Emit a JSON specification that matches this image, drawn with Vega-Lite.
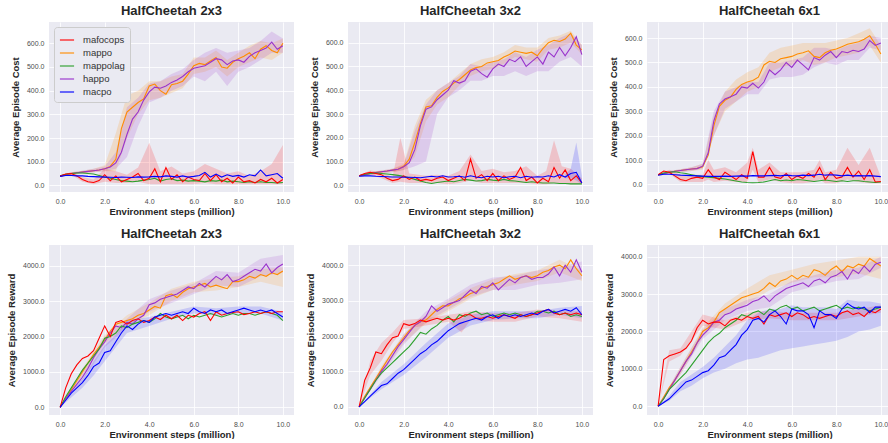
{
"$schema":"https://vega.github.io/schema/vega-lite/v6.json",
"padding":{"left":6,"top":5,"right":0,"bottom":0},
"datasets":{
"d":[
{"p":1,"s":"mappo","x":0,"y":38},{"p":1,"s":"mappo","x":0.25,"y":45},{"p":1,"s":"mappo","x":0.5,"y":50},{"p":1,"s":"mappo","x":0.75,"y":53},{"p":1,"s":"mappo","x":1,"y":56},{"p":1,"s":"mappo","x":1.25,"y":59},{"p":1,"s":"mappo","x":1.5,"y":62},{"p":1,"s":"mappo","x":1.75,"y":65},{"p":1,"s":"mappo","x":2,"y":70},{"p":1,"s":"mappo","x":2.25,"y":80},{"p":1,"s":"mappo","x":2.5,"y":110},{"p":1,"s":"mappo","x":2.75,"y":240},{"p":1,"s":"mappo","x":3,"y":310},{"p":1,"s":"mappo","x":3.25,"y":330},{"p":1,"s":"mappo","x":3.5,"y":350},{"p":1,"s":"mappo","x":3.75,"y":365},{"p":1,"s":"mappo","x":4,"y":420},{"p":1,"s":"mappo","x":4.25,"y":428},{"p":1,"s":"mappo","x":4.5,"y":400},{"p":1,"s":"mappo","x":4.75,"y":385},{"p":1,"s":"mappo","x":5,"y":425},{"p":1,"s":"mappo","x":5.25,"y":430},{"p":1,"s":"mappo","x":5.5,"y":440},{"p":1,"s":"mappo","x":5.75,"y":470},{"p":1,"s":"mappo","x":6,"y":505},{"p":1,"s":"mappo","x":6.25,"y":515},{"p":1,"s":"mappo","x":6.5,"y":510},{"p":1,"s":"mappo","x":6.75,"y":525},{"p":1,"s":"mappo","x":7,"y":540},{"p":1,"s":"mappo","x":7.25,"y":500},{"p":1,"s":"mappo","x":7.5,"y":495},{"p":1,"s":"mappo","x":7.75,"y":520},{"p":1,"s":"mappo","x":8,"y":535},{"p":1,"s":"mappo","x":8.25,"y":545},{"p":1,"s":"mappo","x":8.5,"y":560},{"p":1,"s":"mappo","x":8.75,"y":535},{"p":1,"s":"mappo","x":9,"y":575},{"p":1,"s":"mappo","x":9.25,"y":590},{"p":1,"s":"mappo","x":9.5,"y":570},{"p":1,"s":"mappo","x":9.75,"y":560},{"p":1,"s":"mappo","x":10,"y":600},
{"p":1,"s":"happo","x":0,"y":38},{"p":1,"s":"happo","x":0.25,"y":45},{"p":1,"s":"happo","x":0.5,"y":50},{"p":1,"s":"happo","x":0.75,"y":53},{"p":1,"s":"happo","x":1,"y":56},{"p":1,"s":"happo","x":1.25,"y":59},{"p":1,"s":"happo","x":1.5,"y":62},{"p":1,"s":"happo","x":1.75,"y":65},{"p":1,"s":"happo","x":2,"y":70},{"p":1,"s":"happo","x":2.25,"y":78},{"p":1,"s":"happo","x":2.5,"y":95},{"p":1,"s":"happo","x":2.75,"y":140},{"p":1,"s":"happo","x":3,"y":215},{"p":1,"s":"happo","x":3.25,"y":280},{"p":1,"s":"happo","x":3.5,"y":310},{"p":1,"s":"happo","x":3.75,"y":360},{"p":1,"s":"happo","x":4,"y":395},{"p":1,"s":"happo","x":4.25,"y":415},{"p":1,"s":"happo","x":4.5,"y":410},{"p":1,"s":"happo","x":4.75,"y":420},{"p":1,"s":"happo","x":5,"y":435},{"p":1,"s":"happo","x":5.25,"y":445},{"p":1,"s":"happo","x":5.5,"y":460},{"p":1,"s":"happo","x":5.75,"y":480},{"p":1,"s":"happo","x":6,"y":495},{"p":1,"s":"happo","x":6.25,"y":500},{"p":1,"s":"happo","x":6.5,"y":505},{"p":1,"s":"happo","x":6.75,"y":520},{"p":1,"s":"happo","x":7,"y":535},{"p":1,"s":"happo","x":7.25,"y":530},{"p":1,"s":"happo","x":7.5,"y":510},{"p":1,"s":"happo","x":7.75,"y":525},{"p":1,"s":"happo","x":8,"y":530},{"p":1,"s":"happo","x":8.25,"y":520},{"p":1,"s":"happo","x":8.5,"y":545},{"p":1,"s":"happo","x":8.75,"y":560},{"p":1,"s":"happo","x":9,"y":570},{"p":1,"s":"happo","x":9.25,"y":580},{"p":1,"s":"happo","x":9.5,"y":605},{"p":1,"s":"happo","x":9.75,"y":575},{"p":1,"s":"happo","x":10,"y":590},
{"p":1,"s":"mappolag","x":0,"y":40},{"p":1,"s":"mappolag","x":0.25,"y":47},{"p":1,"s":"mappolag","x":0.5,"y":50},{"p":1,"s":"mappolag","x":0.75,"y":52},{"p":1,"s":"mappolag","x":1,"y":52},{"p":1,"s":"mappolag","x":1.25,"y":50},{"p":1,"s":"mappolag","x":1.5,"y":48},{"p":1,"s":"mappolag","x":1.75,"y":42},{"p":1,"s":"mappolag","x":2,"y":35},{"p":1,"s":"mappolag","x":2.25,"y":30},{"p":1,"s":"mappolag","x":2.5,"y":25},{"p":1,"s":"mappolag","x":2.75,"y":20},{"p":1,"s":"mappolag","x":3,"y":18},{"p":1,"s":"mappolag","x":3.25,"y":15},{"p":1,"s":"mappolag","x":3.5,"y":18},{"p":1,"s":"mappolag","x":3.75,"y":22},{"p":1,"s":"mappolag","x":4,"y":25},{"p":1,"s":"mappolag","x":4.25,"y":30},{"p":1,"s":"mappolag","x":4.5,"y":18},{"p":1,"s":"mappolag","x":4.75,"y":25},{"p":1,"s":"mappolag","x":5,"y":28},{"p":1,"s":"mappolag","x":5.25,"y":20},{"p":1,"s":"mappolag","x":5.5,"y":22},{"p":1,"s":"mappolag","x":5.75,"y":18},{"p":1,"s":"mappolag","x":6,"y":20},{"p":1,"s":"mappolag","x":6.25,"y":18},{"p":1,"s":"mappolag","x":6.5,"y":15},{"p":1,"s":"mappolag","x":6.75,"y":20},{"p":1,"s":"mappolag","x":7,"y":18},{"p":1,"s":"mappolag","x":7.25,"y":22},{"p":1,"s":"mappolag","x":7.5,"y":15},{"p":1,"s":"mappolag","x":7.75,"y":18},{"p":1,"s":"mappolag","x":8,"y":15},{"p":1,"s":"mappolag","x":8.25,"y":12},{"p":1,"s":"mappolag","x":8.5,"y":15},{"p":1,"s":"mappolag","x":8.75,"y":12},{"p":1,"s":"mappolag","x":9,"y":15},{"p":1,"s":"mappolag","x":9.25,"y":12},{"p":1,"s":"mappolag","x":9.5,"y":12},{"p":1,"s":"mappolag","x":9.75,"y":10},{"p":1,"s":"mappolag","x":10,"y":12},
{"p":1,"s":"mafocops","x":0,"y":40},{"p":1,"s":"mafocops","x":0.25,"y":48},{"p":1,"s":"mafocops","x":0.5,"y":50},{"p":1,"s":"mafocops","x":0.75,"y":40},{"p":1,"s":"mafocops","x":1,"y":25},{"p":1,"s":"mafocops","x":1.25,"y":15},{"p":1,"s":"mafocops","x":1.5,"y":12},{"p":1,"s":"mafocops","x":1.75,"y":20},{"p":1,"s":"mafocops","x":2,"y":45},{"p":1,"s":"mafocops","x":2.25,"y":20},{"p":1,"s":"mafocops","x":2.5,"y":40},{"p":1,"s":"mafocops","x":2.75,"y":15},{"p":1,"s":"mafocops","x":3,"y":25},{"p":1,"s":"mafocops","x":3.25,"y":35},{"p":1,"s":"mafocops","x":3.5,"y":50},{"p":1,"s":"mafocops","x":3.75,"y":20},{"p":1,"s":"mafocops","x":4,"y":30},{"p":1,"s":"mafocops","x":4.25,"y":70},{"p":1,"s":"mafocops","x":4.5,"y":15},{"p":1,"s":"mafocops","x":4.75,"y":75},{"p":1,"s":"mafocops","x":5,"y":25},{"p":1,"s":"mafocops","x":5.25,"y":45},{"p":1,"s":"mafocops","x":5.5,"y":15},{"p":1,"s":"mafocops","x":5.75,"y":35},{"p":1,"s":"mafocops","x":6,"y":25},{"p":1,"s":"mafocops","x":6.25,"y":20},{"p":1,"s":"mafocops","x":6.5,"y":50},{"p":1,"s":"mafocops","x":6.75,"y":20},{"p":1,"s":"mafocops","x":7,"y":45},{"p":1,"s":"mafocops","x":7.25,"y":15},{"p":1,"s":"mafocops","x":7.5,"y":30},{"p":1,"s":"mafocops","x":7.75,"y":10},{"p":1,"s":"mafocops","x":8,"y":35},{"p":1,"s":"mafocops","x":8.25,"y":15},{"p":1,"s":"mafocops","x":8.5,"y":20},{"p":1,"s":"mafocops","x":8.75,"y":10},{"p":1,"s":"mafocops","x":9,"y":25},{"p":1,"s":"mafocops","x":9.25,"y":15},{"p":1,"s":"mafocops","x":9.5,"y":30},{"p":1,"s":"mafocops","x":9.75,"y":10},{"p":1,"s":"mafocops","x":10,"y":25},
{"p":1,"s":"macpo","x":0,"y":38},{"p":1,"s":"macpo","x":0.25,"y":42},{"p":1,"s":"macpo","x":0.5,"y":42},{"p":1,"s":"macpo","x":0.75,"y":40},{"p":1,"s":"macpo","x":1,"y":40},{"p":1,"s":"macpo","x":1.25,"y":38},{"p":1,"s":"macpo","x":1.5,"y":37},{"p":1,"s":"macpo","x":1.75,"y":36},{"p":1,"s":"macpo","x":2,"y":35},{"p":1,"s":"macpo","x":2.25,"y":34},{"p":1,"s":"macpo","x":2.5,"y":33},{"p":1,"s":"macpo","x":2.75,"y":35},{"p":1,"s":"macpo","x":3,"y":34},{"p":1,"s":"macpo","x":3.25,"y":33},{"p":1,"s":"macpo","x":3.5,"y":36},{"p":1,"s":"macpo","x":3.75,"y":35},{"p":1,"s":"macpo","x":4,"y":36},{"p":1,"s":"macpo","x":4.25,"y":38},{"p":1,"s":"macpo","x":4.5,"y":36},{"p":1,"s":"macpo","x":4.75,"y":40},{"p":1,"s":"macpo","x":5,"y":38},{"p":1,"s":"macpo","x":5.25,"y":35},{"p":1,"s":"macpo","x":5.5,"y":40},{"p":1,"s":"macpo","x":5.75,"y":35},{"p":1,"s":"macpo","x":6,"y":38},{"p":1,"s":"macpo","x":6.25,"y":42},{"p":1,"s":"macpo","x":6.5,"y":55},{"p":1,"s":"macpo","x":6.75,"y":35},{"p":1,"s":"macpo","x":7,"y":48},{"p":1,"s":"macpo","x":7.25,"y":35},{"p":1,"s":"macpo","x":7.5,"y":45},{"p":1,"s":"macpo","x":7.75,"y":38},{"p":1,"s":"macpo","x":8,"y":42},{"p":1,"s":"macpo","x":8.25,"y":35},{"p":1,"s":"macpo","x":8.5,"y":45},{"p":1,"s":"macpo","x":8.75,"y":40},{"p":1,"s":"macpo","x":9,"y":65},{"p":1,"s":"macpo","x":9.25,"y":40},{"p":1,"s":"macpo","x":9.5,"y":45},{"p":1,"s":"macpo","x":9.75,"y":50},{"p":1,"s":"macpo","x":10,"y":30},
{"p":2,"s":"mappo","x":0,"y":40},{"p":2,"s":"mappo","x":0.25,"y":45},{"p":2,"s":"mappo","x":0.5,"y":50},{"p":2,"s":"mappo","x":0.75,"y":54},{"p":2,"s":"mappo","x":1,"y":57},{"p":2,"s":"mappo","x":1.25,"y":60},{"p":2,"s":"mappo","x":1.5,"y":64},{"p":2,"s":"mappo","x":1.75,"y":68},{"p":2,"s":"mappo","x":2,"y":80},{"p":2,"s":"mappo","x":2.25,"y":110},{"p":2,"s":"mappo","x":2.5,"y":180},{"p":2,"s":"mappo","x":2.75,"y":260},{"p":2,"s":"mappo","x":3,"y":330},{"p":2,"s":"mappo","x":3.25,"y":335},{"p":2,"s":"mappo","x":3.5,"y":370},{"p":2,"s":"mappo","x":3.75,"y":395},{"p":2,"s":"mappo","x":4,"y":410},{"p":2,"s":"mappo","x":4.25,"y":430},{"p":2,"s":"mappo","x":4.5,"y":445},{"p":2,"s":"mappo","x":4.75,"y":465},{"p":2,"s":"mappo","x":5,"y":485},{"p":2,"s":"mappo","x":5.25,"y":495},{"p":2,"s":"mappo","x":5.5,"y":500},{"p":2,"s":"mappo","x":5.75,"y":515},{"p":2,"s":"mappo","x":6,"y":520},{"p":2,"s":"mappo","x":6.25,"y":525},{"p":2,"s":"mappo","x":6.5,"y":540},{"p":2,"s":"mappo","x":6.75,"y":550},{"p":2,"s":"mappo","x":7,"y":565},{"p":2,"s":"mappo","x":7.25,"y":560},{"p":2,"s":"mappo","x":7.5,"y":555},{"p":2,"s":"mappo","x":7.75,"y":560},{"p":2,"s":"mappo","x":8,"y":545},{"p":2,"s":"mappo","x":8.25,"y":575},{"p":2,"s":"mappo","x":8.5,"y":600},{"p":2,"s":"mappo","x":8.75,"y":610},{"p":2,"s":"mappo","x":9,"y":605},{"p":2,"s":"mappo","x":9.25,"y":615},{"p":2,"s":"mappo","x":9.5,"y":640},{"p":2,"s":"mappo","x":9.75,"y":590},{"p":2,"s":"mappo","x":10,"y":570},
{"p":2,"s":"happo","x":0,"y":40},{"p":2,"s":"happo","x":0.25,"y":45},{"p":2,"s":"happo","x":0.5,"y":50},{"p":2,"s":"happo","x":0.75,"y":54},{"p":2,"s":"happo","x":1,"y":57},{"p":2,"s":"happo","x":1.25,"y":60},{"p":2,"s":"happo","x":1.5,"y":64},{"p":2,"s":"happo","x":1.75,"y":68},{"p":2,"s":"happo","x":2,"y":78},{"p":2,"s":"happo","x":2.25,"y":95},{"p":2,"s":"happo","x":2.5,"y":150},{"p":2,"s":"happo","x":2.75,"y":250},{"p":2,"s":"happo","x":3,"y":320},{"p":2,"s":"happo","x":3.25,"y":330},{"p":2,"s":"happo","x":3.5,"y":360},{"p":2,"s":"happo","x":3.75,"y":380},{"p":2,"s":"happo","x":4,"y":400},{"p":2,"s":"happo","x":4.25,"y":440},{"p":2,"s":"happo","x":4.5,"y":430},{"p":2,"s":"happo","x":4.75,"y":440},{"p":2,"s":"happo","x":5,"y":480},{"p":2,"s":"happo","x":5.25,"y":490},{"p":2,"s":"happo","x":5.5,"y":470},{"p":2,"s":"happo","x":5.75,"y":455},{"p":2,"s":"happo","x":6,"y":490},{"p":2,"s":"happo","x":6.25,"y":510},{"p":2,"s":"happo","x":6.5,"y":500},{"p":2,"s":"happo","x":6.75,"y":530},{"p":2,"s":"happo","x":7,"y":520},{"p":2,"s":"happo","x":7.25,"y":540},{"p":2,"s":"happo","x":7.5,"y":500},{"p":2,"s":"happo","x":7.75,"y":520},{"p":2,"s":"happo","x":8,"y":540},{"p":2,"s":"happo","x":8.25,"y":510},{"p":2,"s":"happo","x":8.5,"y":560},{"p":2,"s":"happo","x":8.75,"y":540},{"p":2,"s":"happo","x":9,"y":580},{"p":2,"s":"happo","x":9.25,"y":545},{"p":2,"s":"happo","x":9.5,"y":580},{"p":2,"s":"happo","x":9.75,"y":625},{"p":2,"s":"happo","x":10,"y":550},
{"p":2,"s":"mappolag","x":0,"y":40},{"p":2,"s":"mappolag","x":0.25,"y":47},{"p":2,"s":"mappolag","x":0.5,"y":50},{"p":2,"s":"mappolag","x":0.75,"y":52},{"p":2,"s":"mappolag","x":1,"y":50},{"p":2,"s":"mappolag","x":1.25,"y":48},{"p":2,"s":"mappolag","x":1.5,"y":45},{"p":2,"s":"mappolag","x":1.75,"y":42},{"p":2,"s":"mappolag","x":2,"y":38},{"p":2,"s":"mappolag","x":2.25,"y":32},{"p":2,"s":"mappolag","x":2.5,"y":25},{"p":2,"s":"mappolag","x":2.75,"y":18},{"p":2,"s":"mappolag","x":3,"y":12},{"p":2,"s":"mappolag","x":3.25,"y":8},{"p":2,"s":"mappolag","x":3.5,"y":12},{"p":2,"s":"mappolag","x":3.75,"y":15},{"p":2,"s":"mappolag","x":4,"y":18},{"p":2,"s":"mappolag","x":4.25,"y":15},{"p":2,"s":"mappolag","x":4.5,"y":20},{"p":2,"s":"mappolag","x":4.75,"y":25},{"p":2,"s":"mappolag","x":5,"y":22},{"p":2,"s":"mappolag","x":5.25,"y":18},{"p":2,"s":"mappolag","x":5.5,"y":20},{"p":2,"s":"mappolag","x":5.75,"y":25},{"p":2,"s":"mappolag","x":6,"y":22},{"p":2,"s":"mappolag","x":6.25,"y":20},{"p":2,"s":"mappolag","x":6.5,"y":25},{"p":2,"s":"mappolag","x":6.75,"y":20},{"p":2,"s":"mappolag","x":7,"y":18},{"p":2,"s":"mappolag","x":7.25,"y":15},{"p":2,"s":"mappolag","x":7.5,"y":12},{"p":2,"s":"mappolag","x":7.75,"y":15},{"p":2,"s":"mappolag","x":8,"y":12},{"p":2,"s":"mappolag","x":8.25,"y":10},{"p":2,"s":"mappolag","x":8.5,"y":10},{"p":2,"s":"mappolag","x":8.75,"y":10},{"p":2,"s":"mappolag","x":9,"y":8},{"p":2,"s":"mappolag","x":9.25,"y":8},{"p":2,"s":"mappolag","x":9.5,"y":6},{"p":2,"s":"mappolag","x":9.75,"y":6},{"p":2,"s":"mappolag","x":10,"y":6},
{"p":2,"s":"mafocops","x":0,"y":40},{"p":2,"s":"mafocops","x":0.25,"y":50},{"p":2,"s":"mafocops","x":0.5,"y":55},{"p":2,"s":"mafocops","x":0.75,"y":50},{"p":2,"s":"mafocops","x":1,"y":45},{"p":2,"s":"mafocops","x":1.25,"y":30},{"p":2,"s":"mafocops","x":1.5,"y":20},{"p":2,"s":"mafocops","x":1.75,"y":25},{"p":2,"s":"mafocops","x":2,"y":40},{"p":2,"s":"mafocops","x":2.25,"y":25},{"p":2,"s":"mafocops","x":2.5,"y":35},{"p":2,"s":"mafocops","x":2.75,"y":20},{"p":2,"s":"mafocops","x":3,"y":25},{"p":2,"s":"mafocops","x":3.25,"y":20},{"p":2,"s":"mafocops","x":3.5,"y":30},{"p":2,"s":"mafocops","x":3.75,"y":35},{"p":2,"s":"mafocops","x":4,"y":20},{"p":2,"s":"mafocops","x":4.25,"y":30},{"p":2,"s":"mafocops","x":4.5,"y":40},{"p":2,"s":"mafocops","x":4.75,"y":20},{"p":2,"s":"mafocops","x":5,"y":110},{"p":2,"s":"mafocops","x":5.25,"y":30},{"p":2,"s":"mafocops","x":5.5,"y":45},{"p":2,"s":"mafocops","x":5.75,"y":20},{"p":2,"s":"mafocops","x":6,"y":50},{"p":2,"s":"mafocops","x":6.25,"y":20},{"p":2,"s":"mafocops","x":6.5,"y":40},{"p":2,"s":"mafocops","x":6.75,"y":25},{"p":2,"s":"mafocops","x":7,"y":35},{"p":2,"s":"mafocops","x":7.25,"y":75},{"p":2,"s":"mafocops","x":7.5,"y":20},{"p":2,"s":"mafocops","x":7.75,"y":35},{"p":2,"s":"mafocops","x":8,"y":10},{"p":2,"s":"mafocops","x":8.25,"y":30},{"p":2,"s":"mafocops","x":8.5,"y":15},{"p":2,"s":"mafocops","x":8.75,"y":75},{"p":2,"s":"mafocops","x":9,"y":30},{"p":2,"s":"mafocops","x":9.25,"y":65},{"p":2,"s":"mafocops","x":9.5,"y":20},{"p":2,"s":"mafocops","x":9.75,"y":40},{"p":2,"s":"mafocops","x":10,"y":10},
{"p":2,"s":"macpo","x":0,"y":38},{"p":2,"s":"macpo","x":0.25,"y":40},{"p":2,"s":"macpo","x":0.5,"y":40},{"p":2,"s":"macpo","x":0.75,"y":38},{"p":2,"s":"macpo","x":1,"y":37},{"p":2,"s":"macpo","x":1.25,"y":36},{"p":2,"s":"macpo","x":1.5,"y":35},{"p":2,"s":"macpo","x":1.75,"y":35},{"p":2,"s":"macpo","x":2,"y":34},{"p":2,"s":"macpo","x":2.25,"y":34},{"p":2,"s":"macpo","x":2.5,"y":33},{"p":2,"s":"macpo","x":2.75,"y":32},{"p":2,"s":"macpo","x":3,"y":35},{"p":2,"s":"macpo","x":3.25,"y":38},{"p":2,"s":"macpo","x":3.5,"y":35},{"p":2,"s":"macpo","x":3.75,"y":40},{"p":2,"s":"macpo","x":4,"y":35},{"p":2,"s":"macpo","x":4.25,"y":36},{"p":2,"s":"macpo","x":4.5,"y":38},{"p":2,"s":"macpo","x":4.75,"y":34},{"p":2,"s":"macpo","x":5,"y":40},{"p":2,"s":"macpo","x":5.25,"y":35},{"p":2,"s":"macpo","x":5.5,"y":32},{"p":2,"s":"macpo","x":5.75,"y":38},{"p":2,"s":"macpo","x":6,"y":35},{"p":2,"s":"macpo","x":6.25,"y":38},{"p":2,"s":"macpo","x":6.5,"y":32},{"p":2,"s":"macpo","x":6.75,"y":36},{"p":2,"s":"macpo","x":7,"y":38},{"p":2,"s":"macpo","x":7.25,"y":32},{"p":2,"s":"macpo","x":7.5,"y":38},{"p":2,"s":"macpo","x":7.75,"y":34},{"p":2,"s":"macpo","x":8,"y":36},{"p":2,"s":"macpo","x":8.25,"y":35},{"p":2,"s":"macpo","x":8.5,"y":40},{"p":2,"s":"macpo","x":8.75,"y":35},{"p":2,"s":"macpo","x":9,"y":45},{"p":2,"s":"macpo","x":9.25,"y":35},{"p":2,"s":"macpo","x":9.5,"y":50},{"p":2,"s":"macpo","x":9.75,"y":55},{"p":2,"s":"macpo","x":10,"y":10},
{"p":3,"s":"mappo","x":0,"y":40},{"p":3,"s":"mappo","x":0.25,"y":45},{"p":3,"s":"mappo","x":0.5,"y":50},{"p":3,"s":"mappo","x":0.75,"y":54},{"p":3,"s":"mappo","x":1,"y":57},{"p":3,"s":"mappo","x":1.25,"y":60},{"p":3,"s":"mappo","x":1.5,"y":63},{"p":3,"s":"mappo","x":1.75,"y":66},{"p":3,"s":"mappo","x":2,"y":72},{"p":3,"s":"mappo","x":2.25,"y":120},{"p":3,"s":"mappo","x":2.5,"y":240},{"p":3,"s":"mappo","x":2.75,"y":320},{"p":3,"s":"mappo","x":3,"y":345},{"p":3,"s":"mappo","x":3.25,"y":358},{"p":3,"s":"mappo","x":3.5,"y":390},{"p":3,"s":"mappo","x":3.75,"y":410},{"p":3,"s":"mappo","x":4,"y":420},{"p":3,"s":"mappo","x":4.25,"y":426},{"p":3,"s":"mappo","x":4.5,"y":440},{"p":3,"s":"mappo","x":4.75,"y":490},{"p":3,"s":"mappo","x":5,"y":505},{"p":3,"s":"mappo","x":5.25,"y":500},{"p":3,"s":"mappo","x":5.5,"y":515},{"p":3,"s":"mappo","x":5.75,"y":520},{"p":3,"s":"mappo","x":6,"y":525},{"p":3,"s":"mappo","x":6.25,"y":535},{"p":3,"s":"mappo","x":6.5,"y":540},{"p":3,"s":"mappo","x":6.75,"y":548},{"p":3,"s":"mappo","x":7,"y":525},{"p":3,"s":"mappo","x":7.25,"y":520},{"p":3,"s":"mappo","x":7.5,"y":540},{"p":3,"s":"mappo","x":7.75,"y":550},{"p":3,"s":"mappo","x":8,"y":555},{"p":3,"s":"mappo","x":8.25,"y":565},{"p":3,"s":"mappo","x":8.5,"y":575},{"p":3,"s":"mappo","x":8.75,"y":580},{"p":3,"s":"mappo","x":9,"y":585},{"p":3,"s":"mappo","x":9.25,"y":595},{"p":3,"s":"mappo","x":9.5,"y":610},{"p":3,"s":"mappo","x":9.75,"y":575},{"p":3,"s":"mappo","x":10,"y":535},
{"p":3,"s":"happo","x":0,"y":40},{"p":3,"s":"happo","x":0.25,"y":45},{"p":3,"s":"happo","x":0.5,"y":50},{"p":3,"s":"happo","x":0.75,"y":54},{"p":3,"s":"happo","x":1,"y":57},{"p":3,"s":"happo","x":1.25,"y":60},{"p":3,"s":"happo","x":1.5,"y":63},{"p":3,"s":"happo","x":1.75,"y":65},{"p":3,"s":"happo","x":2,"y":75},{"p":3,"s":"happo","x":2.25,"y":130},{"p":3,"s":"happo","x":2.5,"y":260},{"p":3,"s":"happo","x":2.75,"y":330},{"p":3,"s":"happo","x":3,"y":350},{"p":3,"s":"happo","x":3.25,"y":360},{"p":3,"s":"happo","x":3.5,"y":370},{"p":3,"s":"happo","x":3.75,"y":400},{"p":3,"s":"happo","x":4,"y":395},{"p":3,"s":"happo","x":4.25,"y":415},{"p":3,"s":"happo","x":4.5,"y":395},{"p":3,"s":"happo","x":4.75,"y":420},{"p":3,"s":"happo","x":5,"y":470},{"p":3,"s":"happo","x":5.25,"y":450},{"p":3,"s":"happo","x":5.5,"y":470},{"p":3,"s":"happo","x":5.75,"y":500},{"p":3,"s":"happo","x":6,"y":480},{"p":3,"s":"happo","x":6.25,"y":510},{"p":3,"s":"happo","x":6.5,"y":490},{"p":3,"s":"happo","x":6.75,"y":470},{"p":3,"s":"happo","x":7,"y":520},{"p":3,"s":"happo","x":7.25,"y":510},{"p":3,"s":"happo","x":7.5,"y":530},{"p":3,"s":"happo","x":7.75,"y":545},{"p":3,"s":"happo","x":8,"y":520},{"p":3,"s":"happo","x":8.25,"y":545},{"p":3,"s":"happo","x":8.5,"y":540},{"p":3,"s":"happo","x":8.75,"y":550},{"p":3,"s":"happo","x":9,"y":545},{"p":3,"s":"happo","x":9.25,"y":555},{"p":3,"s":"happo","x":9.5,"y":590},{"p":3,"s":"happo","x":9.75,"y":570},{"p":3,"s":"happo","x":10,"y":580},
{"p":3,"s":"mappolag","x":0,"y":40},{"p":3,"s":"mappolag","x":0.25,"y":47},{"p":3,"s":"mappolag","x":0.5,"y":50},{"p":3,"s":"mappolag","x":0.75,"y":52},{"p":3,"s":"mappolag","x":1,"y":48},{"p":3,"s":"mappolag","x":1.25,"y":45},{"p":3,"s":"mappolag","x":1.5,"y":40},{"p":3,"s":"mappolag","x":1.75,"y":35},{"p":3,"s":"mappolag","x":2,"y":32},{"p":3,"s":"mappolag","x":2.25,"y":30},{"p":3,"s":"mappolag","x":2.5,"y":28},{"p":3,"s":"mappolag","x":2.75,"y":25},{"p":3,"s":"mappolag","x":3,"y":22},{"p":3,"s":"mappolag","x":3.25,"y":18},{"p":3,"s":"mappolag","x":3.5,"y":14},{"p":3,"s":"mappolag","x":3.75,"y":10},{"p":3,"s":"mappolag","x":4,"y":8},{"p":3,"s":"mappolag","x":4.25,"y":7},{"p":3,"s":"mappolag","x":4.5,"y":8},{"p":3,"s":"mappolag","x":4.75,"y":10},{"p":3,"s":"mappolag","x":5,"y":15},{"p":3,"s":"mappolag","x":5.25,"y":20},{"p":3,"s":"mappolag","x":5.5,"y":15},{"p":3,"s":"mappolag","x":5.75,"y":18},{"p":3,"s":"mappolag","x":6,"y":15},{"p":3,"s":"mappolag","x":6.25,"y":20},{"p":3,"s":"mappolag","x":6.5,"y":18},{"p":3,"s":"mappolag","x":6.75,"y":15},{"p":3,"s":"mappolag","x":7,"y":12},{"p":3,"s":"mappolag","x":7.25,"y":15},{"p":3,"s":"mappolag","x":7.5,"y":18},{"p":3,"s":"mappolag","x":7.75,"y":15},{"p":3,"s":"mappolag","x":8,"y":12},{"p":3,"s":"mappolag","x":8.25,"y":15},{"p":3,"s":"mappolag","x":8.5,"y":12},{"p":3,"s":"mappolag","x":8.75,"y":15},{"p":3,"s":"mappolag","x":9,"y":15},{"p":3,"s":"mappolag","x":9.25,"y":12},{"p":3,"s":"mappolag","x":9.5,"y":10},{"p":3,"s":"mappolag","x":9.75,"y":8},{"p":3,"s":"mappolag","x":10,"y":10},
{"p":3,"s":"mafocops","x":0,"y":40},{"p":3,"s":"mafocops","x":0.25,"y":55},{"p":3,"s":"mafocops","x":0.5,"y":50},{"p":3,"s":"mafocops","x":0.75,"y":35},{"p":3,"s":"mafocops","x":1,"y":20},{"p":3,"s":"mafocops","x":1.25,"y":15},{"p":3,"s":"mafocops","x":1.5,"y":25},{"p":3,"s":"mafocops","x":1.75,"y":30},{"p":3,"s":"mafocops","x":2,"y":25},{"p":3,"s":"mafocops","x":2.25,"y":60},{"p":3,"s":"mafocops","x":2.5,"y":30},{"p":3,"s":"mafocops","x":2.75,"y":20},{"p":3,"s":"mafocops","x":3,"y":50},{"p":3,"s":"mafocops","x":3.25,"y":35},{"p":3,"s":"mafocops","x":3.5,"y":20},{"p":3,"s":"mafocops","x":3.75,"y":40},{"p":3,"s":"mafocops","x":4,"y":25},{"p":3,"s":"mafocops","x":4.25,"y":135},{"p":3,"s":"mafocops","x":4.5,"y":30},{"p":3,"s":"mafocops","x":4.75,"y":30},{"p":3,"s":"mafocops","x":5,"y":70},{"p":3,"s":"mafocops","x":5.25,"y":30},{"p":3,"s":"mafocops","x":5.5,"y":25},{"p":3,"s":"mafocops","x":5.75,"y":45},{"p":3,"s":"mafocops","x":6,"y":20},{"p":3,"s":"mafocops","x":6.25,"y":35},{"p":3,"s":"mafocops","x":6.5,"y":25},{"p":3,"s":"mafocops","x":6.75,"y":45},{"p":3,"s":"mafocops","x":7,"y":30},{"p":3,"s":"mafocops","x":7.25,"y":70},{"p":3,"s":"mafocops","x":7.5,"y":20},{"p":3,"s":"mafocops","x":7.75,"y":50},{"p":3,"s":"mafocops","x":8,"y":25},{"p":3,"s":"mafocops","x":8.25,"y":30},{"p":3,"s":"mafocops","x":8.5,"y":70},{"p":3,"s":"mafocops","x":8.75,"y":30},{"p":3,"s":"mafocops","x":9,"y":55},{"p":3,"s":"mafocops","x":9.25,"y":20},{"p":3,"s":"mafocops","x":9.5,"y":60},{"p":3,"s":"mafocops","x":9.75,"y":10},{"p":3,"s":"mafocops","x":10,"y":12},
{"p":3,"s":"macpo","x":0,"y":38},{"p":3,"s":"macpo","x":0.25,"y":42},{"p":3,"s":"macpo","x":0.5,"y":42},{"p":3,"s":"macpo","x":0.75,"y":40},{"p":3,"s":"macpo","x":1,"y":38},{"p":3,"s":"macpo","x":1.25,"y":37},{"p":3,"s":"macpo","x":1.5,"y":36},{"p":3,"s":"macpo","x":1.75,"y":35},{"p":3,"s":"macpo","x":2,"y":34},{"p":3,"s":"macpo","x":2.25,"y":33},{"p":3,"s":"macpo","x":2.5,"y":33},{"p":3,"s":"macpo","x":2.75,"y":33},{"p":3,"s":"macpo","x":3,"y":34},{"p":3,"s":"macpo","x":3.25,"y":33},{"p":3,"s":"macpo","x":3.5,"y":34},{"p":3,"s":"macpo","x":3.75,"y":35},{"p":3,"s":"macpo","x":4,"y":34},{"p":3,"s":"macpo","x":4.25,"y":36},{"p":3,"s":"macpo","x":4.5,"y":35},{"p":3,"s":"macpo","x":4.75,"y":35},{"p":3,"s":"macpo","x":5,"y":36},{"p":3,"s":"macpo","x":5.25,"y":37},{"p":3,"s":"macpo","x":5.5,"y":35},{"p":3,"s":"macpo","x":5.75,"y":38},{"p":3,"s":"macpo","x":6,"y":36},{"p":3,"s":"macpo","x":6.25,"y":35},{"p":3,"s":"macpo","x":6.5,"y":38},{"p":3,"s":"macpo","x":6.75,"y":36},{"p":3,"s":"macpo","x":7,"y":38},{"p":3,"s":"macpo","x":7.25,"y":42},{"p":3,"s":"macpo","x":7.5,"y":38},{"p":3,"s":"macpo","x":7.75,"y":40},{"p":3,"s":"macpo","x":8,"y":38},{"p":3,"s":"macpo","x":8.25,"y":35},{"p":3,"s":"macpo","x":8.5,"y":38},{"p":3,"s":"macpo","x":8.75,"y":35},{"p":3,"s":"macpo","x":9,"y":36},{"p":3,"s":"macpo","x":9.25,"y":35},{"p":3,"s":"macpo","x":9.5,"y":36},{"p":3,"s":"macpo","x":9.75,"y":34},{"p":3,"s":"macpo","x":10,"y":32},
{"p":4,"s":"mappo","x":0,"y":0},{"p":4,"s":"mappo","x":0.25,"y":250},{"p":4,"s":"mappo","x":0.5,"y":500},{"p":4,"s":"mappo","x":0.75,"y":750},{"p":4,"s":"mappo","x":1,"y":1000},{"p":4,"s":"mappo","x":1.25,"y":1250},{"p":4,"s":"mappo","x":1.5,"y":1500},{"p":4,"s":"mappo","x":1.75,"y":1700},{"p":4,"s":"mappo","x":2,"y":1900},{"p":4,"s":"mappo","x":2.25,"y":2150},{"p":4,"s":"mappo","x":2.5,"y":2350},{"p":4,"s":"mappo","x":2.75,"y":2400},{"p":4,"s":"mappo","x":3,"y":2450},{"p":4,"s":"mappo","x":3.25,"y":2500},{"p":4,"s":"mappo","x":3.5,"y":2600},{"p":4,"s":"mappo","x":3.75,"y":2650},{"p":4,"s":"mappo","x":4,"y":2750},{"p":4,"s":"mappo","x":4.25,"y":2850},{"p":4,"s":"mappo","x":4.5,"y":2800},{"p":4,"s":"mappo","x":4.75,"y":3150},{"p":4,"s":"mappo","x":5,"y":3200},{"p":4,"s":"mappo","x":5.25,"y":3100},{"p":4,"s":"mappo","x":5.5,"y":3250},{"p":4,"s":"mappo","x":5.75,"y":3350},{"p":4,"s":"mappo","x":6,"y":3400},{"p":4,"s":"mappo","x":6.25,"y":3450},{"p":4,"s":"mappo","x":6.5,"y":3500},{"p":4,"s":"mappo","x":6.75,"y":3400},{"p":4,"s":"mappo","x":7,"y":3450},{"p":4,"s":"mappo","x":7.25,"y":3400},{"p":4,"s":"mappo","x":7.5,"y":3350},{"p":4,"s":"mappo","x":7.75,"y":3550},{"p":4,"s":"mappo","x":8,"y":3550},{"p":4,"s":"mappo","x":8.25,"y":3600},{"p":4,"s":"mappo","x":8.5,"y":3700},{"p":4,"s":"mappo","x":8.75,"y":3650},{"p":4,"s":"mappo","x":9,"y":3750},{"p":4,"s":"mappo","x":9.25,"y":3700},{"p":4,"s":"mappo","x":9.5,"y":3800},{"p":4,"s":"mappo","x":9.75,"y":3750},{"p":4,"s":"mappo","x":10,"y":3850},
{"p":4,"s":"happo","x":0,"y":0},{"p":4,"s":"happo","x":0.25,"y":250},{"p":4,"s":"happo","x":0.5,"y":450},{"p":4,"s":"happo","x":0.75,"y":650},{"p":4,"s":"happo","x":1,"y":850},{"p":4,"s":"happo","x":1.25,"y":1100},{"p":4,"s":"happo","x":1.5,"y":1400},{"p":4,"s":"happo","x":1.75,"y":1650},{"p":4,"s":"happo","x":2,"y":1850},{"p":4,"s":"happo","x":2.25,"y":2100},{"p":4,"s":"happo","x":2.5,"y":2300},{"p":4,"s":"happo","x":2.75,"y":2250},{"p":4,"s":"happo","x":3,"y":2400},{"p":4,"s":"happo","x":3.25,"y":2350},{"p":4,"s":"happo","x":3.5,"y":2500},{"p":4,"s":"happo","x":3.75,"y":2600},{"p":4,"s":"happo","x":4,"y":2900},{"p":4,"s":"happo","x":4.25,"y":2950},{"p":4,"s":"happo","x":4.5,"y":3050},{"p":4,"s":"happo","x":4.75,"y":3100},{"p":4,"s":"happo","x":5,"y":3150},{"p":4,"s":"happo","x":5.25,"y":3200},{"p":4,"s":"happo","x":5.5,"y":3300},{"p":4,"s":"happo","x":5.75,"y":3400},{"p":4,"s":"happo","x":6,"y":3350},{"p":4,"s":"happo","x":6.25,"y":3500},{"p":4,"s":"happo","x":6.5,"y":3400},{"p":4,"s":"happo","x":6.75,"y":3550},{"p":4,"s":"happo","x":7,"y":3700},{"p":4,"s":"happo","x":7.25,"y":3600},{"p":4,"s":"happo","x":7.5,"y":3750},{"p":4,"s":"happo","x":7.75,"y":3550},{"p":4,"s":"happo","x":8,"y":3600},{"p":4,"s":"happo","x":8.25,"y":3700},{"p":4,"s":"happo","x":8.5,"y":3800},{"p":4,"s":"happo","x":8.75,"y":3900},{"p":4,"s":"happo","x":9,"y":3850},{"p":4,"s":"happo","x":9.25,"y":4050},{"p":4,"s":"happo","x":9.5,"y":3800},{"p":4,"s":"happo","x":9.75,"y":3950},{"p":4,"s":"happo","x":10,"y":4050},
{"p":4,"s":"mappolag","x":0,"y":0},{"p":4,"s":"mappolag","x":0.25,"y":300},{"p":4,"s":"mappolag","x":0.5,"y":550},{"p":4,"s":"mappolag","x":0.75,"y":800},{"p":4,"s":"mappolag","x":1,"y":1050},{"p":4,"s":"mappolag","x":1.25,"y":1250},{"p":4,"s":"mappolag","x":1.5,"y":1450},{"p":4,"s":"mappolag","x":1.75,"y":1650},{"p":4,"s":"mappolag","x":2,"y":1950},{"p":4,"s":"mappolag","x":2.25,"y":2000},{"p":4,"s":"mappolag","x":2.5,"y":2100},{"p":4,"s":"mappolag","x":2.75,"y":2300},{"p":4,"s":"mappolag","x":3,"y":2250},{"p":4,"s":"mappolag","x":3.25,"y":2350},{"p":4,"s":"mappolag","x":3.5,"y":2400},{"p":4,"s":"mappolag","x":3.75,"y":2450},{"p":4,"s":"mappolag","x":4,"y":2400},{"p":4,"s":"mappolag","x":4.25,"y":2500},{"p":4,"s":"mappolag","x":4.5,"y":2650},{"p":4,"s":"mappolag","x":4.75,"y":2550},{"p":4,"s":"mappolag","x":5,"y":2500},{"p":4,"s":"mappolag","x":5.25,"y":2550},{"p":4,"s":"mappolag","x":5.5,"y":2600},{"p":4,"s":"mappolag","x":5.75,"y":2500},{"p":4,"s":"mappolag","x":6,"y":2600},{"p":4,"s":"mappolag","x":6.25,"y":2550},{"p":4,"s":"mappolag","x":6.5,"y":2600},{"p":4,"s":"mappolag","x":6.75,"y":2650},{"p":4,"s":"mappolag","x":7,"y":2600},{"p":4,"s":"mappolag","x":7.25,"y":2550},{"p":4,"s":"mappolag","x":7.5,"y":2600},{"p":4,"s":"mappolag","x":7.75,"y":2650},{"p":4,"s":"mappolag","x":8,"y":2600},{"p":4,"s":"mappolag","x":8.25,"y":2650},{"p":4,"s":"mappolag","x":8.5,"y":2650},{"p":4,"s":"mappolag","x":8.75,"y":2600},{"p":4,"s":"mappolag","x":9,"y":2650},{"p":4,"s":"mappolag","x":9.25,"y":2700},{"p":4,"s":"mappolag","x":9.5,"y":2650},{"p":4,"s":"mappolag","x":9.75,"y":2600},{"p":4,"s":"mappolag","x":10,"y":2450},
{"p":4,"s":"mafocops","x":0,"y":0},{"p":4,"s":"mafocops","x":0.25,"y":550},{"p":4,"s":"mafocops","x":0.5,"y":950},{"p":4,"s":"mafocops","x":0.75,"y":1200},{"p":4,"s":"mafocops","x":1,"y":1380},{"p":4,"s":"mafocops","x":1.25,"y":1450},{"p":4,"s":"mafocops","x":1.5,"y":1600},{"p":4,"s":"mafocops","x":1.75,"y":1950},{"p":4,"s":"mafocops","x":2,"y":2300},{"p":4,"s":"mafocops","x":2.25,"y":2000},{"p":4,"s":"mafocops","x":2.5,"y":2400},{"p":4,"s":"mafocops","x":2.75,"y":2450},{"p":4,"s":"mafocops","x":3,"y":2350},{"p":4,"s":"mafocops","x":3.25,"y":2450},{"p":4,"s":"mafocops","x":3.5,"y":2500},{"p":4,"s":"mafocops","x":3.75,"y":2400},{"p":4,"s":"mafocops","x":4,"y":2450},{"p":4,"s":"mafocops","x":4.25,"y":2550},{"p":4,"s":"mafocops","x":4.5,"y":2480},{"p":4,"s":"mafocops","x":4.75,"y":2600},{"p":4,"s":"mafocops","x":5,"y":2500},{"p":4,"s":"mafocops","x":5.25,"y":2600},{"p":4,"s":"mafocops","x":5.5,"y":2450},{"p":4,"s":"mafocops","x":5.75,"y":2600},{"p":4,"s":"mafocops","x":6,"y":2550},{"p":4,"s":"mafocops","x":6.25,"y":2650},{"p":4,"s":"mafocops","x":6.5,"y":2700},{"p":4,"s":"mafocops","x":6.75,"y":2450},{"p":4,"s":"mafocops","x":7,"y":2700},{"p":4,"s":"mafocops","x":7.25,"y":2600},{"p":4,"s":"mafocops","x":7.5,"y":2650},{"p":4,"s":"mafocops","x":7.75,"y":2680},{"p":4,"s":"mafocops","x":8,"y":2700},{"p":4,"s":"mafocops","x":8.25,"y":2620},{"p":4,"s":"mafocops","x":8.5,"y":2650},{"p":4,"s":"mafocops","x":8.75,"y":2700},{"p":4,"s":"mafocops","x":9,"y":2650},{"p":4,"s":"mafocops","x":9.25,"y":2700},{"p":4,"s":"mafocops","x":9.5,"y":2650},{"p":4,"s":"mafocops","x":9.75,"y":2700},{"p":4,"s":"mafocops","x":10,"y":2700},
{"p":4,"s":"macpo","x":0,"y":0},{"p":4,"s":"macpo","x":0.25,"y":200},{"p":4,"s":"macpo","x":0.5,"y":400},{"p":4,"s":"macpo","x":0.75,"y":550},{"p":4,"s":"macpo","x":1,"y":700},{"p":4,"s":"macpo","x":1.25,"y":900},{"p":4,"s":"macpo","x":1.5,"y":1150},{"p":4,"s":"macpo","x":1.75,"y":1250},{"p":4,"s":"macpo","x":2,"y":1550},{"p":4,"s":"macpo","x":2.25,"y":1600},{"p":4,"s":"macpo","x":2.5,"y":1850},{"p":4,"s":"macpo","x":2.75,"y":2100},{"p":4,"s":"macpo","x":3,"y":2300},{"p":4,"s":"macpo","x":3.25,"y":2200},{"p":4,"s":"macpo","x":3.5,"y":2350},{"p":4,"s":"macpo","x":3.75,"y":2450},{"p":4,"s":"macpo","x":4,"y":2400},{"p":4,"s":"macpo","x":4.25,"y":2550},{"p":4,"s":"macpo","x":4.5,"y":2600},{"p":4,"s":"macpo","x":4.75,"y":2650},{"p":4,"s":"macpo","x":5,"y":2600},{"p":4,"s":"macpo","x":5.25,"y":2650},{"p":4,"s":"macpo","x":5.5,"y":2700},{"p":4,"s":"macpo","x":5.75,"y":2650},{"p":4,"s":"macpo","x":6,"y":2800},{"p":4,"s":"macpo","x":6.25,"y":2700},{"p":4,"s":"macpo","x":6.5,"y":2650},{"p":4,"s":"macpo","x":6.75,"y":2750},{"p":4,"s":"macpo","x":7,"y":2700},{"p":4,"s":"macpo","x":7.25,"y":2750},{"p":4,"s":"macpo","x":7.5,"y":2650},{"p":4,"s":"macpo","x":7.75,"y":2700},{"p":4,"s":"macpo","x":8,"y":2750},{"p":4,"s":"macpo","x":8.25,"y":2800},{"p":4,"s":"macpo","x":8.5,"y":2750},{"p":4,"s":"macpo","x":8.75,"y":2700},{"p":4,"s":"macpo","x":9,"y":2750},{"p":4,"s":"macpo","x":9.25,"y":2700},{"p":4,"s":"macpo","x":9.5,"y":2750},{"p":4,"s":"macpo","x":9.75,"y":2650},{"p":4,"s":"macpo","x":10,"y":2550},
{"p":5,"s":"mappo","x":0,"y":0},{"p":5,"s":"mappo","x":0.25,"y":300},{"p":5,"s":"mappo","x":0.5,"y":550},{"p":5,"s":"mappo","x":0.75,"y":800},{"p":5,"s":"mappo","x":1,"y":1050},{"p":5,"s":"mappo","x":1.25,"y":1300},{"p":5,"s":"mappo","x":1.5,"y":1550},{"p":5,"s":"mappo","x":1.75,"y":1750},{"p":5,"s":"mappo","x":2,"y":1950},{"p":5,"s":"mappo","x":2.25,"y":2150},{"p":5,"s":"mappo","x":2.5,"y":2300},{"p":5,"s":"mappo","x":2.75,"y":2400},{"p":5,"s":"mappo","x":3,"y":2450},{"p":5,"s":"mappo","x":3.25,"y":2600},{"p":5,"s":"mappo","x":3.5,"y":2750},{"p":5,"s":"mappo","x":3.75,"y":2850},{"p":5,"s":"mappo","x":4,"y":2850},{"p":5,"s":"mappo","x":4.25,"y":2950},{"p":5,"s":"mappo","x":4.5,"y":3050},{"p":5,"s":"mappo","x":4.75,"y":3100},{"p":5,"s":"mappo","x":5,"y":3200},{"p":5,"s":"mappo","x":5.25,"y":3250},{"p":5,"s":"mappo","x":5.5,"y":3350},{"p":5,"s":"mappo","x":5.75,"y":3400},{"p":5,"s":"mappo","x":6,"y":3450},{"p":5,"s":"mappo","x":6.25,"y":3500},{"p":5,"s":"mappo","x":6.5,"y":3600},{"p":5,"s":"mappo","x":6.75,"y":3700},{"p":5,"s":"mappo","x":7,"y":3600},{"p":5,"s":"mappo","x":7.25,"y":3650},{"p":5,"s":"mappo","x":7.5,"y":3700},{"p":5,"s":"mappo","x":7.75,"y":3650},{"p":5,"s":"mappo","x":8,"y":3700},{"p":5,"s":"mappo","x":8.25,"y":3800},{"p":5,"s":"mappo","x":8.5,"y":3850},{"p":5,"s":"mappo","x":8.75,"y":3950},{"p":5,"s":"mappo","x":9,"y":4000},{"p":5,"s":"mappo","x":9.25,"y":3900},{"p":5,"s":"mappo","x":9.5,"y":4150},{"p":5,"s":"mappo","x":9.75,"y":3900},{"p":5,"s":"mappo","x":10,"y":3700},
{"p":5,"s":"happo","x":0,"y":0},{"p":5,"s":"happo","x":0.25,"y":250},{"p":5,"s":"happo","x":0.5,"y":500},{"p":5,"s":"happo","x":0.75,"y":750},{"p":5,"s":"happo","x":1,"y":1000},{"p":5,"s":"happo","x":1.25,"y":1200},{"p":5,"s":"happo","x":1.5,"y":1450},{"p":5,"s":"happo","x":1.75,"y":1700},{"p":5,"s":"happo","x":2,"y":1900},{"p":5,"s":"happo","x":2.25,"y":2100},{"p":5,"s":"happo","x":2.5,"y":2300},{"p":5,"s":"happo","x":2.75,"y":2400},{"p":5,"s":"happo","x":3,"y":2550},{"p":5,"s":"happo","x":3.25,"y":2850},{"p":5,"s":"happo","x":3.5,"y":2700},{"p":5,"s":"happo","x":3.75,"y":2800},{"p":5,"s":"happo","x":4,"y":2900},{"p":5,"s":"happo","x":4.25,"y":2950},{"p":5,"s":"happo","x":4.5,"y":3000},{"p":5,"s":"happo","x":4.75,"y":3150},{"p":5,"s":"happo","x":5,"y":3300},{"p":5,"s":"happo","x":5.25,"y":3200},{"p":5,"s":"happo","x":5.5,"y":3400},{"p":5,"s":"happo","x":5.75,"y":3350},{"p":5,"s":"happo","x":6,"y":3500},{"p":5,"s":"happo","x":6.25,"y":3300},{"p":5,"s":"happo","x":6.5,"y":3450},{"p":5,"s":"happo","x":6.75,"y":3600},{"p":5,"s":"happo","x":7,"y":3500},{"p":5,"s":"happo","x":7.25,"y":3650},{"p":5,"s":"happo","x":7.5,"y":3700},{"p":5,"s":"happo","x":7.75,"y":3600},{"p":5,"s":"happo","x":8,"y":3650},{"p":5,"s":"happo","x":8.25,"y":3650},{"p":5,"s":"happo","x":8.5,"y":3750},{"p":5,"s":"happo","x":8.75,"y":3950},{"p":5,"s":"happo","x":9,"y":3700},{"p":5,"s":"happo","x":9.25,"y":4000},{"p":5,"s":"happo","x":9.5,"y":3800},{"p":5,"s":"happo","x":9.75,"y":4150},{"p":5,"s":"happo","x":10,"y":3800},
{"p":5,"s":"mappolag","x":0,"y":0},{"p":5,"s":"mappolag","x":0.25,"y":250},{"p":5,"s":"mappolag","x":0.5,"y":500},{"p":5,"s":"mappolag","x":0.75,"y":750},{"p":5,"s":"mappolag","x":1,"y":950},{"p":5,"s":"mappolag","x":1.25,"y":1100},{"p":5,"s":"mappolag","x":1.5,"y":1250},{"p":5,"s":"mappolag","x":1.75,"y":1400},{"p":5,"s":"mappolag","x":2,"y":1550},{"p":5,"s":"mappolag","x":2.25,"y":1700},{"p":5,"s":"mappolag","x":2.5,"y":1900},{"p":5,"s":"mappolag","x":2.75,"y":2100},{"p":5,"s":"mappolag","x":3,"y":2050},{"p":5,"s":"mappolag","x":3.25,"y":2200},{"p":5,"s":"mappolag","x":3.5,"y":2300},{"p":5,"s":"mappolag","x":3.75,"y":2450},{"p":5,"s":"mappolag","x":4,"y":2550},{"p":5,"s":"mappolag","x":4.25,"y":2400},{"p":5,"s":"mappolag","x":4.5,"y":2600},{"p":5,"s":"mappolag","x":4.75,"y":2550},{"p":5,"s":"mappolag","x":5,"y":2650},{"p":5,"s":"mappolag","x":5.25,"y":2700},{"p":5,"s":"mappolag","x":5.5,"y":2600},{"p":5,"s":"mappolag","x":5.75,"y":2650},{"p":5,"s":"mappolag","x":6,"y":2550},{"p":5,"s":"mappolag","x":6.25,"y":2600},{"p":5,"s":"mappolag","x":6.5,"y":2650},{"p":5,"s":"mappolag","x":6.75,"y":2600},{"p":5,"s":"mappolag","x":7,"y":2650},{"p":5,"s":"mappolag","x":7.25,"y":2600},{"p":5,"s":"mappolag","x":7.5,"y":2550},{"p":5,"s":"mappolag","x":7.75,"y":2600},{"p":5,"s":"mappolag","x":8,"y":2700},{"p":5,"s":"mappolag","x":8.25,"y":2700},{"p":5,"s":"mappolag","x":8.5,"y":2650},{"p":5,"s":"mappolag","x":8.75,"y":2700},{"p":5,"s":"mappolag","x":9,"y":2600},{"p":5,"s":"mappolag","x":9.25,"y":2650},{"p":5,"s":"mappolag","x":9.5,"y":2550},{"p":5,"s":"mappolag","x":9.75,"y":2600},{"p":5,"s":"mappolag","x":10,"y":2550},
{"p":5,"s":"mafocops","x":0,"y":0},{"p":5,"s":"mafocops","x":0.25,"y":750},{"p":5,"s":"mafocops","x":0.5,"y":1100},{"p":5,"s":"mafocops","x":0.75,"y":1550},{"p":5,"s":"mafocops","x":1,"y":1500},{"p":5,"s":"mafocops","x":1.25,"y":1750},{"p":5,"s":"mafocops","x":1.5,"y":1950},{"p":5,"s":"mafocops","x":1.75,"y":2000},{"p":5,"s":"mafocops","x":2,"y":2350},{"p":5,"s":"mafocops","x":2.25,"y":2300},{"p":5,"s":"mafocops","x":2.5,"y":2350},{"p":5,"s":"mafocops","x":2.75,"y":2450},{"p":5,"s":"mafocops","x":3,"y":2400},{"p":5,"s":"mafocops","x":3.25,"y":2450},{"p":5,"s":"mafocops","x":3.5,"y":2500},{"p":5,"s":"mafocops","x":3.75,"y":2450},{"p":5,"s":"mafocops","x":4,"y":2500},{"p":5,"s":"mafocops","x":4.25,"y":2450},{"p":5,"s":"mafocops","x":4.5,"y":2500},{"p":5,"s":"mafocops","x":4.75,"y":2600},{"p":5,"s":"mafocops","x":5,"y":2600},{"p":5,"s":"mafocops","x":5.25,"y":2500},{"p":5,"s":"mafocops","x":5.5,"y":2500},{"p":5,"s":"mafocops","x":5.75,"y":2550},{"p":5,"s":"mafocops","x":6,"y":2500},{"p":5,"s":"mafocops","x":6.25,"y":2550},{"p":5,"s":"mafocops","x":6.5,"y":2600},{"p":5,"s":"mafocops","x":6.75,"y":2550},{"p":5,"s":"mafocops","x":7,"y":2500},{"p":5,"s":"mafocops","x":7.25,"y":2600},{"p":5,"s":"mafocops","x":7.5,"y":2550},{"p":5,"s":"mafocops","x":7.75,"y":2600},{"p":5,"s":"mafocops","x":8,"y":2650},{"p":5,"s":"mafocops","x":8.25,"y":2700},{"p":5,"s":"mafocops","x":8.5,"y":2750},{"p":5,"s":"mafocops","x":8.75,"y":2650},{"p":5,"s":"mafocops","x":9,"y":2600},{"p":5,"s":"mafocops","x":9.25,"y":2650},{"p":5,"s":"mafocops","x":9.5,"y":2600},{"p":5,"s":"mafocops","x":9.75,"y":2650},{"p":5,"s":"mafocops","x":10,"y":2600},
{"p":5,"s":"macpo","x":0,"y":0},{"p":5,"s":"macpo","x":0.25,"y":150},{"p":5,"s":"macpo","x":0.5,"y":300},{"p":5,"s":"macpo","x":0.75,"y":450},{"p":5,"s":"macpo","x":1,"y":600},{"p":5,"s":"macpo","x":1.25,"y":650},{"p":5,"s":"macpo","x":1.5,"y":800},{"p":5,"s":"macpo","x":1.75,"y":950},{"p":5,"s":"macpo","x":2,"y":1050},{"p":5,"s":"macpo","x":2.25,"y":1200},{"p":5,"s":"macpo","x":2.5,"y":1350},{"p":5,"s":"macpo","x":2.75,"y":1500},{"p":5,"s":"macpo","x":3,"y":1600},{"p":5,"s":"macpo","x":3.25,"y":1750},{"p":5,"s":"macpo","x":3.5,"y":1850},{"p":5,"s":"macpo","x":3.75,"y":2000},{"p":5,"s":"macpo","x":4,"y":2150},{"p":5,"s":"macpo","x":4.25,"y":2250},{"p":5,"s":"macpo","x":4.5,"y":2350},{"p":5,"s":"macpo","x":4.75,"y":2400},{"p":5,"s":"macpo","x":5,"y":2450},{"p":5,"s":"macpo","x":5.25,"y":2500},{"p":5,"s":"macpo","x":5.5,"y":2450},{"p":5,"s":"macpo","x":5.75,"y":2550},{"p":5,"s":"macpo","x":6,"y":2600},{"p":5,"s":"macpo","x":6.25,"y":2500},{"p":5,"s":"macpo","x":6.5,"y":2600},{"p":5,"s":"macpo","x":6.75,"y":2550},{"p":5,"s":"macpo","x":7,"y":2600},{"p":5,"s":"macpo","x":7.25,"y":2550},{"p":5,"s":"macpo","x":7.5,"y":2600},{"p":5,"s":"macpo","x":7.75,"y":2650},{"p":5,"s":"macpo","x":8,"y":2600},{"p":5,"s":"macpo","x":8.25,"y":2700},{"p":5,"s":"macpo","x":8.5,"y":2750},{"p":5,"s":"macpo","x":8.75,"y":2650},{"p":5,"s":"macpo","x":9,"y":2700},{"p":5,"s":"macpo","x":9.25,"y":2750},{"p":5,"s":"macpo","x":9.5,"y":2700},{"p":5,"s":"macpo","x":9.75,"y":2800},{"p":5,"s":"macpo","x":10,"y":2600},
{"p":6,"s":"mappo","x":0,"y":0},{"p":6,"s":"mappo","x":0.25,"y":250},{"p":6,"s":"mappo","x":0.5,"y":500},{"p":6,"s":"mappo","x":0.75,"y":700},{"p":6,"s":"mappo","x":1,"y":950},{"p":6,"s":"mappo","x":1.25,"y":1200},{"p":6,"s":"mappo","x":1.5,"y":1450},{"p":6,"s":"mappo","x":1.75,"y":1700},{"p":6,"s":"mappo","x":2,"y":2000},{"p":6,"s":"mappo","x":2.25,"y":2100},{"p":6,"s":"mappo","x":2.5,"y":2250},{"p":6,"s":"mappo","x":2.75,"y":2500},{"p":6,"s":"mappo","x":3,"y":2600},{"p":6,"s":"mappo","x":3.25,"y":2700},{"p":6,"s":"mappo","x":3.5,"y":2800},{"p":6,"s":"mappo","x":3.75,"y":2900},{"p":6,"s":"mappo","x":4,"y":2950},{"p":6,"s":"mappo","x":4.25,"y":3000},{"p":6,"s":"mappo","x":4.5,"y":3050},{"p":6,"s":"mappo","x":4.75,"y":3150},{"p":6,"s":"mappo","x":5,"y":3300},{"p":6,"s":"mappo","x":5.25,"y":3200},{"p":6,"s":"mappo","x":5.5,"y":3350},{"p":6,"s":"mappo","x":5.75,"y":3400},{"p":6,"s":"mappo","x":6,"y":3500},{"p":6,"s":"mappo","x":6.25,"y":3400},{"p":6,"s":"mappo","x":6.5,"y":3500},{"p":6,"s":"mappo","x":6.75,"y":3450},{"p":6,"s":"mappo","x":7,"y":3650},{"p":6,"s":"mappo","x":7.25,"y":3600},{"p":6,"s":"mappo","x":7.5,"y":3500},{"p":6,"s":"mappo","x":7.75,"y":3650},{"p":6,"s":"mappo","x":8,"y":3750},{"p":6,"s":"mappo","x":8.25,"y":3600},{"p":6,"s":"mappo","x":8.5,"y":3750},{"p":6,"s":"mappo","x":8.75,"y":3700},{"p":6,"s":"mappo","x":9,"y":3800},{"p":6,"s":"mappo","x":9.25,"y":3750},{"p":6,"s":"mappo","x":9.5,"y":3950},{"p":6,"s":"mappo","x":9.75,"y":3850},{"p":6,"s":"mappo","x":10,"y":3750},
{"p":6,"s":"happo","x":0,"y":0},{"p":6,"s":"happo","x":0.25,"y":200},{"p":6,"s":"happo","x":0.5,"y":450},{"p":6,"s":"happo","x":0.75,"y":700},{"p":6,"s":"happo","x":1,"y":950},{"p":6,"s":"happo","x":1.25,"y":1200},{"p":6,"s":"happo","x":1.5,"y":1400},{"p":6,"s":"happo","x":1.75,"y":1700},{"p":6,"s":"happo","x":2,"y":1900},{"p":6,"s":"happo","x":2.25,"y":2050},{"p":6,"s":"happo","x":2.5,"y":2250},{"p":6,"s":"happo","x":2.75,"y":2300},{"p":6,"s":"happo","x":3,"y":2450},{"p":6,"s":"happo","x":3.25,"y":2500},{"p":6,"s":"happo","x":3.5,"y":2600},{"p":6,"s":"happo","x":3.75,"y":2650},{"p":6,"s":"happo","x":4,"y":2700},{"p":6,"s":"happo","x":4.25,"y":2800},{"p":6,"s":"happo","x":4.5,"y":2850},{"p":6,"s":"happo","x":4.75,"y":2950},{"p":6,"s":"happo","x":5,"y":2800},{"p":6,"s":"happo","x":5.25,"y":2950},{"p":6,"s":"happo","x":5.5,"y":3050},{"p":6,"s":"happo","x":5.75,"y":3150},{"p":6,"s":"happo","x":6,"y":3200},{"p":6,"s":"happo","x":6.25,"y":3250},{"p":6,"s":"happo","x":6.5,"y":3300},{"p":6,"s":"happo","x":6.75,"y":3200},{"p":6,"s":"happo","x":7,"y":3350},{"p":6,"s":"happo","x":7.25,"y":3400},{"p":6,"s":"happo","x":7.5,"y":3300},{"p":6,"s":"happo","x":7.75,"y":3450},{"p":6,"s":"happo","x":8,"y":3500},{"p":6,"s":"happo","x":8.25,"y":3600},{"p":6,"s":"happo","x":8.5,"y":3400},{"p":6,"s":"happo","x":8.75,"y":3650},{"p":6,"s":"happo","x":9,"y":3550},{"p":6,"s":"happo","x":9.25,"y":3750},{"p":6,"s":"happo","x":9.5,"y":3600},{"p":6,"s":"happo","x":9.75,"y":3800},{"p":6,"s":"happo","x":10,"y":3850},
{"p":6,"s":"mappolag","x":0,"y":0},{"p":6,"s":"mappolag","x":0.25,"y":200},{"p":6,"s":"mappolag","x":0.5,"y":450},{"p":6,"s":"mappolag","x":0.75,"y":600},{"p":6,"s":"mappolag","x":1,"y":750},{"p":6,"s":"mappolag","x":1.25,"y":900},{"p":6,"s":"mappolag","x":1.5,"y":1100},{"p":6,"s":"mappolag","x":1.75,"y":1300},{"p":6,"s":"mappolag","x":2,"y":1500},{"p":6,"s":"mappolag","x":2.25,"y":1700},{"p":6,"s":"mappolag","x":2.5,"y":1850},{"p":6,"s":"mappolag","x":2.75,"y":1950},{"p":6,"s":"mappolag","x":3,"y":2100},{"p":6,"s":"mappolag","x":3.25,"y":2200},{"p":6,"s":"mappolag","x":3.5,"y":2300},{"p":6,"s":"mappolag","x":3.75,"y":2450},{"p":6,"s":"mappolag","x":4,"y":2400},{"p":6,"s":"mappolag","x":4.25,"y":2500},{"p":6,"s":"mappolag","x":4.5,"y":2550},{"p":6,"s":"mappolag","x":4.75,"y":2450},{"p":6,"s":"mappolag","x":5,"y":2600},{"p":6,"s":"mappolag","x":5.25,"y":2550},{"p":6,"s":"mappolag","x":5.5,"y":2650},{"p":6,"s":"mappolag","x":5.75,"y":2700},{"p":6,"s":"mappolag","x":6,"y":2600},{"p":6,"s":"mappolag","x":6.25,"y":2650},{"p":6,"s":"mappolag","x":6.5,"y":2550},{"p":6,"s":"mappolag","x":6.75,"y":2600},{"p":6,"s":"mappolag","x":7,"y":2650},{"p":6,"s":"mappolag","x":7.25,"y":2550},{"p":6,"s":"mappolag","x":7.5,"y":2600},{"p":6,"s":"mappolag","x":7.75,"y":2650},{"p":6,"s":"mappolag","x":8,"y":2700},{"p":6,"s":"mappolag","x":8.25,"y":2600},{"p":6,"s":"mappolag","x":8.5,"y":2650},{"p":6,"s":"mappolag","x":8.75,"y":2600},{"p":6,"s":"mappolag","x":9,"y":2650},{"p":6,"s":"mappolag","x":9.25,"y":2600},{"p":6,"s":"mappolag","x":9.5,"y":2550},{"p":6,"s":"mappolag","x":9.75,"y":2600},{"p":6,"s":"mappolag","x":10,"y":2650},
{"p":6,"s":"mafocops","x":0,"y":0},{"p":6,"s":"mafocops","x":0.25,"y":1250},{"p":6,"s":"mafocops","x":0.5,"y":1350},{"p":6,"s":"mafocops","x":0.75,"y":1400},{"p":6,"s":"mafocops","x":1,"y":1450},{"p":6,"s":"mafocops","x":1.25,"y":1550},{"p":6,"s":"mafocops","x":1.5,"y":1750},{"p":6,"s":"mafocops","x":1.75,"y":2100},{"p":6,"s":"mafocops","x":2,"y":2300},{"p":6,"s":"mafocops","x":2.25,"y":2200},{"p":6,"s":"mafocops","x":2.5,"y":2250},{"p":6,"s":"mafocops","x":2.75,"y":2250},{"p":6,"s":"mafocops","x":3,"y":2150},{"p":6,"s":"mafocops","x":3.25,"y":2300},{"p":6,"s":"mafocops","x":3.5,"y":2350},{"p":6,"s":"mafocops","x":3.75,"y":2300},{"p":6,"s":"mafocops","x":4,"y":2400},{"p":6,"s":"mafocops","x":4.25,"y":2350},{"p":6,"s":"mafocops","x":4.5,"y":2400},{"p":6,"s":"mafocops","x":4.75,"y":2200},{"p":6,"s":"mafocops","x":5,"y":2450},{"p":6,"s":"mafocops","x":5.25,"y":2400},{"p":6,"s":"mafocops","x":5.5,"y":2450},{"p":6,"s":"mafocops","x":5.75,"y":2500},{"p":6,"s":"mafocops","x":6,"y":2400},{"p":6,"s":"mafocops","x":6.25,"y":2500},{"p":6,"s":"mafocops","x":6.5,"y":2450},{"p":6,"s":"mafocops","x":6.75,"y":2350},{"p":6,"s":"mafocops","x":7,"y":2400},{"p":6,"s":"mafocops","x":7.25,"y":2350},{"p":6,"s":"mafocops","x":7.5,"y":2400},{"p":6,"s":"mafocops","x":7.75,"y":2450},{"p":6,"s":"mafocops","x":8,"y":2400},{"p":6,"s":"mafocops","x":8.25,"y":2500},{"p":6,"s":"mafocops","x":8.5,"y":2550},{"p":6,"s":"mafocops","x":8.75,"y":2450},{"p":6,"s":"mafocops","x":9,"y":2500},{"p":6,"s":"mafocops","x":9.25,"y":2400},{"p":6,"s":"mafocops","x":9.5,"y":2550},{"p":6,"s":"mafocops","x":9.75,"y":2500},{"p":6,"s":"mafocops","x":10,"y":2600},
{"p":6,"s":"macpo","x":0,"y":0},{"p":6,"s":"macpo","x":0.25,"y":100},{"p":6,"s":"macpo","x":0.5,"y":200},{"p":6,"s":"macpo","x":0.75,"y":350},{"p":6,"s":"macpo","x":1,"y":500},{"p":6,"s":"macpo","x":1.25,"y":650},{"p":6,"s":"macpo","x":1.5,"y":700},{"p":6,"s":"macpo","x":1.75,"y":800},{"p":6,"s":"macpo","x":2,"y":900},{"p":6,"s":"macpo","x":2.25,"y":950},{"p":6,"s":"macpo","x":2.5,"y":1100},{"p":6,"s":"macpo","x":2.75,"y":1300},{"p":6,"s":"macpo","x":3,"y":1350},{"p":6,"s":"macpo","x":3.25,"y":1500},{"p":6,"s":"macpo","x":3.5,"y":1650},{"p":6,"s":"macpo","x":3.75,"y":1900},{"p":6,"s":"macpo","x":4,"y":2050},{"p":6,"s":"macpo","x":4.25,"y":2300},{"p":6,"s":"macpo","x":4.5,"y":2350},{"p":6,"s":"macpo","x":4.75,"y":2250},{"p":6,"s":"macpo","x":5,"y":2450},{"p":6,"s":"macpo","x":5.25,"y":2550},{"p":6,"s":"macpo","x":5.5,"y":2400},{"p":6,"s":"macpo","x":5.75,"y":2200},{"p":6,"s":"macpo","x":6,"y":2600},{"p":6,"s":"macpo","x":6.25,"y":2550},{"p":6,"s":"macpo","x":6.5,"y":2550},{"p":6,"s":"macpo","x":6.75,"y":2450},{"p":6,"s":"macpo","x":7,"y":2100},{"p":6,"s":"macpo","x":7.25,"y":2550},{"p":6,"s":"macpo","x":7.5,"y":2450},{"p":6,"s":"macpo","x":7.75,"y":2450},{"p":6,"s":"macpo","x":8,"y":2350},{"p":6,"s":"macpo","x":8.25,"y":2600},{"p":6,"s":"macpo","x":8.5,"y":2750},{"p":6,"s":"macpo","x":8.75,"y":2650},{"p":6,"s":"macpo","x":9,"y":2600},{"p":6,"s":"macpo","x":9.25,"y":2650},{"p":6,"s":"macpo","x":9.5,"y":2500},{"p":6,"s":"macpo","x":9.75,"y":2650},{"p":6,"s":"macpo","x":10,"y":2650}
],
"b":[
{"p":1,"s":"mappo","x":0,"l":35,"h":42},{"p":1,"s":"mappo","x":0.5,"l":45,"h":55},{"p":1,"s":"mappo","x":1,"l":50,"h":62},{"p":1,"s":"mappo","x":1.5,"l":55,"h":70},{"p":1,"s":"mappo","x":2,"l":60,"h":85},{"p":1,"s":"mappo","x":2.5,"l":60,"h":220},{"p":1,"s":"mappo","x":3,"l":200,"h":380},{"p":1,"s":"mappo","x":3.5,"l":300,"h":400},{"p":1,"s":"mappo","x":4,"l":360,"h":440},{"p":1,"s":"mappo","x":4.5,"l":370,"h":440},{"p":1,"s":"mappo","x":5,"l":390,"h":460},{"p":1,"s":"mappo","x":5.5,"l":410,"h":470},{"p":1,"s":"mappo","x":6,"l":470,"h":540},{"p":1,"s":"mappo","x":6.5,"l":480,"h":540},{"p":1,"s":"mappo","x":7,"l":500,"h":570},{"p":1,"s":"mappo","x":7.5,"l":460,"h":530},{"p":1,"s":"mappo","x":8,"l":500,"h":560},{"p":1,"s":"mappo","x":8.5,"l":520,"h":590},{"p":1,"s":"mappo","x":9,"l":540,"h":610},{"p":1,"s":"mappo","x":9.5,"l":530,"h":600},{"p":1,"s":"mappo","x":10,"l":560,"h":620},
{"p":1,"s":"happo","x":0,"l":35,"h":42},{"p":1,"s":"happo","x":0.5,"l":45,"h":55},{"p":1,"s":"happo","x":1,"l":50,"h":62},{"p":1,"s":"happo","x":1.5,"l":55,"h":70},{"p":1,"s":"happo","x":2,"l":60,"h":80},{"p":1,"s":"happo","x":2.5,"l":70,"h":140},{"p":1,"s":"happo","x":3,"l":120,"h":330},{"p":1,"s":"happo","x":3.5,"l":250,"h":370},{"p":1,"s":"happo","x":4,"l":350,"h":430},{"p":1,"s":"happo","x":4.5,"l":370,"h":440},{"p":1,"s":"happo","x":5,"l":400,"h":470},{"p":1,"s":"happo","x":5.5,"l":420,"h":490},{"p":1,"s":"happo","x":6,"l":460,"h":530},{"p":1,"s":"happo","x":6.5,"l":440,"h":560},{"p":1,"s":"happo","x":7,"l":480,"h":580},{"p":1,"s":"happo","x":7.5,"l":420,"h":560},{"p":1,"s":"happo","x":8,"l":480,"h":570},{"p":1,"s":"happo","x":8.5,"l":500,"h":580},{"p":1,"s":"happo","x":9,"l":530,"h":610},{"p":1,"s":"happo","x":9.5,"l":560,"h":650},{"p":1,"s":"happo","x":10,"l":560,"h":620},
{"p":1,"s":"mafocops","x":0,"l":38,"h":42},{"p":1,"s":"mafocops","x":0.5,"l":45,"h":55},{"p":1,"s":"mafocops","x":1,"l":15,"h":35},{"p":1,"s":"mafocops","x":1.5,"l":5,"h":25},{"p":1,"s":"mafocops","x":2,"l":15,"h":70},{"p":1,"s":"mafocops","x":2.5,"l":10,"h":60},{"p":1,"s":"mafocops","x":3,"l":10,"h":45},{"p":1,"s":"mafocops","x":3.5,"l":15,"h":75},{"p":1,"s":"mafocops","x":4,"l":5,"h":180},{"p":1,"s":"mafocops","x":4.5,"l":5,"h":60},{"p":1,"s":"mafocops","x":5,"l":5,"h":80},{"p":1,"s":"mafocops","x":5.5,"l":5,"h":50},{"p":1,"s":"mafocops","x":6,"l":5,"h":60},{"p":1,"s":"mafocops","x":6.5,"l":10,"h":90},{"p":1,"s":"mafocops","x":7,"l":5,"h":70},{"p":1,"s":"mafocops","x":7.5,"l":5,"h":50},{"p":1,"s":"mafocops","x":8,"l":5,"h":60},{"p":1,"s":"mafocops","x":8.5,"l":5,"h":40},{"p":1,"s":"mafocops","x":9,"l":5,"h":60},{"p":1,"s":"mafocops","x":9.5,"l":5,"h":90},{"p":1,"s":"mafocops","x":10,"l":5,"h":170},
{"p":2,"s":"mappo","x":0,"l":35,"h":42},{"p":2,"s":"mappo","x":0.5,"l":45,"h":55},{"p":2,"s":"mappo","x":1,"l":50,"h":62},{"p":2,"s":"mappo","x":1.5,"l":55,"h":70},{"p":2,"s":"mappo","x":2,"l":65,"h":90},{"p":2,"s":"mappo","x":2.5,"l":120,"h":250},{"p":2,"s":"mappo","x":3,"l":270,"h":360},{"p":2,"s":"mappo","x":3.5,"l":340,"h":400},{"p":2,"s":"mappo","x":4,"l":370,"h":430},{"p":2,"s":"mappo","x":4.5,"l":420,"h":470},{"p":2,"s":"mappo","x":5,"l":460,"h":510},{"p":2,"s":"mappo","x":5.5,"l":480,"h":530},{"p":2,"s":"mappo","x":6,"l":490,"h":540},{"p":2,"s":"mappo","x":6.5,"l":510,"h":560},{"p":2,"s":"mappo","x":7,"l":540,"h":590},{"p":2,"s":"mappo","x":7.5,"l":530,"h":580},{"p":2,"s":"mappo","x":8,"l":520,"h":580},{"p":2,"s":"mappo","x":8.5,"l":570,"h":620},{"p":2,"s":"mappo","x":9,"l":580,"h":630},{"p":2,"s":"mappo","x":9.5,"l":600,"h":650},{"p":2,"s":"mappo","x":10,"l":550,"h":590},
{"p":2,"s":"happo","x":0,"l":35,"h":42},{"p":2,"s":"happo","x":0.5,"l":45,"h":55},{"p":2,"s":"happo","x":1,"l":50,"h":62},{"p":2,"s":"happo","x":1.5,"l":55,"h":70},{"p":2,"s":"happo","x":2,"l":65,"h":85},{"p":2,"s":"happo","x":2.5,"l":80,"h":230},{"p":2,"s":"happo","x":3,"l":100,"h":340},{"p":2,"s":"happo","x":3.5,"l":300,"h":400},{"p":2,"s":"happo","x":4,"l":370,"h":430},{"p":2,"s":"happo","x":4.5,"l":400,"h":460},{"p":2,"s":"happo","x":5,"l":440,"h":510},{"p":2,"s":"happo","x":5.5,"l":440,"h":500},{"p":2,"s":"happo","x":6,"l":460,"h":520},{"p":2,"s":"happo","x":6.5,"l":460,"h":530},{"p":2,"s":"happo","x":7,"l":480,"h":560},{"p":2,"s":"happo","x":7.5,"l":460,"h":540},{"p":2,"s":"happo","x":8,"l":480,"h":570},{"p":2,"s":"happo","x":8.5,"l":480,"h":590},{"p":2,"s":"happo","x":9,"l":520,"h":620},{"p":2,"s":"happo","x":9.5,"l":540,"h":640},{"p":2,"s":"happo","x":10,"l":500,"h":590},
{"p":2,"s":"mafocops","x":0,"l":38,"h":42},{"p":2,"s":"mafocops","x":0.5,"l":45,"h":62},{"p":2,"s":"mafocops","x":1,"l":30,"h":55},{"p":2,"s":"mafocops","x":1.5,"l":10,"h":35},{"p":2,"s":"mafocops","x":1.85,"l":15,"h":200},{"p":2,"s":"mafocops","x":2.25,"l":10,"h":50},{"p":2,"s":"mafocops","x":3,"l":10,"h":40},{"p":2,"s":"mafocops","x":3.5,"l":10,"h":45},{"p":2,"s":"mafocops","x":4,"l":5,"h":40},{"p":2,"s":"mafocops","x":4.5,"l":10,"h":60},{"p":2,"s":"mafocops","x":5,"l":20,"h":130},{"p":2,"s":"mafocops","x":5.5,"l":10,"h":60},{"p":2,"s":"mafocops","x":6,"l":10,"h":70},{"p":2,"s":"mafocops","x":6.5,"l":10,"h":55},{"p":2,"s":"mafocops","x":7,"l":10,"h":60},{"p":2,"s":"mafocops","x":7.5,"l":10,"h":80},{"p":2,"s":"mafocops","x":8,"l":5,"h":40},{"p":2,"s":"mafocops","x":8.4,"l":5,"h":60},{"p":2,"s":"mafocops","x":8.75,"l":10,"h":190},{"p":2,"s":"mafocops","x":9.1,"l":10,"h":80},{"p":2,"s":"mafocops","x":9.5,"l":5,"h":70},{"p":2,"s":"mafocops","x":10,"l":5,"h":30},
{"p":2,"s":"macpo","x":9.25,"l":30,"h":45},{"p":2,"s":"macpo","x":9.5,"l":30,"h":70},{"p":2,"s":"macpo","x":9.75,"l":20,"h":180},{"p":2,"s":"macpo","x":10,"l":5,"h":40},
{"p":3,"s":"mappo","x":0,"l":35,"h":42},{"p":3,"s":"mappo","x":0.5,"l":45,"h":55},{"p":3,"s":"mappo","x":1,"l":50,"h":62},{"p":3,"s":"mappo","x":1.5,"l":55,"h":70},{"p":3,"s":"mappo","x":2,"l":60,"h":85},{"p":3,"s":"mappo","x":2.5,"l":200,"h":280},{"p":3,"s":"mappo","x":3,"l":300,"h":380},{"p":3,"s":"mappo","x":3.5,"l":340,"h":430},{"p":3,"s":"mappo","x":4,"l":380,"h":460},{"p":3,"s":"mappo","x":4.5,"l":400,"h":480},{"p":3,"s":"mappo","x":5,"l":460,"h":540},{"p":3,"s":"mappo","x":5.5,"l":480,"h":560},{"p":3,"s":"mappo","x":6,"l":490,"h":570},{"p":3,"s":"mappo","x":6.5,"l":510,"h":580},{"p":3,"s":"mappo","x":7,"l":490,"h":580},{"p":3,"s":"mappo","x":7.5,"l":500,"h":580},{"p":3,"s":"mappo","x":8,"l":520,"h":590},{"p":3,"s":"mappo","x":8.5,"l":530,"h":600},{"p":3,"s":"mappo","x":9,"l":540,"h":620},{"p":3,"s":"mappo","x":9.5,"l":570,"h":640},{"p":3,"s":"mappo","x":10,"l":500,"h":570},
{"p":3,"s":"happo","x":0,"l":35,"h":42},{"p":3,"s":"happo","x":0.5,"l":45,"h":55},{"p":3,"s":"happo","x":1,"l":50,"h":62},{"p":3,"s":"happo","x":1.5,"l":55,"h":70},{"p":3,"s":"happo","x":2,"l":65,"h":85},{"p":3,"s":"happo","x":2.5,"l":200,"h":300},{"p":3,"s":"happo","x":3,"l":310,"h":380},{"p":3,"s":"happo","x":3.5,"l":340,"h":400},{"p":3,"s":"happo","x":4,"l":370,"h":420},{"p":3,"s":"happo","x":4.5,"l":370,"h":420},{"p":3,"s":"happo","x":5,"l":430,"h":500},{"p":3,"s":"happo","x":5.5,"l":440,"h":500},{"p":3,"s":"happo","x":6,"l":440,"h":510},{"p":3,"s":"happo","x":6.5,"l":450,"h":520},{"p":3,"s":"happo","x":7,"l":480,"h":560},{"p":3,"s":"happo","x":7.5,"l":500,"h":560},{"p":3,"s":"happo","x":8,"l":490,"h":550},{"p":3,"s":"happo","x":8.5,"l":510,"h":570},{"p":3,"s":"happo","x":9,"l":510,"h":580},{"p":3,"s":"happo","x":9.5,"l":560,"h":610},{"p":3,"s":"happo","x":10,"l":550,"h":600},
{"p":3,"s":"mafocops","x":0,"l":38,"h":42},{"p":3,"s":"mafocops","x":0.5,"l":45,"h":60},{"p":3,"s":"mafocops","x":1,"l":10,"h":40},{"p":3,"s":"mafocops","x":1.5,"l":10,"h":40},{"p":3,"s":"mafocops","x":2,"l":10,"h":40},{"p":3,"s":"mafocops","x":2.25,"l":20,"h":100},{"p":3,"s":"mafocops","x":2.5,"l":10,"h":60},{"p":3,"s":"mafocops","x":3,"l":15,"h":70},{"p":3,"s":"mafocops","x":3.5,"l":10,"h":50},{"p":3,"s":"mafocops","x":4,"l":10,"h":90},{"p":3,"s":"mafocops","x":4.25,"l":60,"h":150},{"p":3,"s":"mafocops","x":4.5,"l":10,"h":60},{"p":3,"s":"mafocops","x":5,"l":20,"h":90},{"p":3,"s":"mafocops","x":5.5,"l":10,"h":50},{"p":3,"s":"mafocops","x":6,"l":5,"h":50},{"p":3,"s":"mafocops","x":6.5,"l":5,"h":50},{"p":3,"s":"mafocops","x":7,"l":10,"h":60},{"p":3,"s":"mafocops","x":7.25,"l":20,"h":100},{"p":3,"s":"mafocops","x":7.5,"l":5,"h":50},{"p":3,"s":"mafocops","x":8,"l":5,"h":60},{"p":3,"s":"mafocops","x":8.5,"l":20,"h":150},{"p":3,"s":"mafocops","x":9,"l":10,"h":80},{"p":3,"s":"mafocops","x":9.5,"l":5,"h":150},{"p":3,"s":"mafocops","x":10,"l":5,"h":30},
{"p":4,"s":"mappo","x":0,"l":0,"h":0},{"p":4,"s":"mappo","x":1,"l":900,"h":1100},{"p":4,"s":"mappo","x":2,"l":1800,"h":2050},{"p":4,"s":"mappo","x":3,"l":2300,"h":2600},{"p":4,"s":"mappo","x":4,"l":2600,"h":2950},{"p":4,"s":"mappo","x":5,"l":3000,"h":3350},{"p":4,"s":"mappo","x":6,"l":3250,"h":3550},{"p":4,"s":"mappo","x":7,"l":3300,"h":3650},{"p":4,"s":"mappo","x":8,"l":3400,"h":3700},{"p":4,"s":"mappo","x":9,"l":3550,"h":3900},{"p":4,"s":"mappo","x":10,"l":3400,"h":3950},
{"p":4,"s":"happo","x":0,"l":0,"h":0},{"p":4,"s":"happo","x":1,"l":750,"h":950},{"p":4,"s":"happo","x":2,"l":1700,"h":2000},{"p":4,"s":"happo","x":3,"l":2250,"h":2500},{"p":4,"s":"happo","x":4,"l":2700,"h":3050},{"p":4,"s":"happo","x":5,"l":2950,"h":3300},{"p":4,"s":"happo","x":6,"l":3200,"h":3500},{"p":4,"s":"happo","x":7,"l":3450,"h":3850},{"p":4,"s":"happo","x":8,"l":3400,"h":3800},{"p":4,"s":"happo","x":9,"l":3700,"h":4200},{"p":4,"s":"happo","x":10,"l":3800,"h":4300},
{"p":4,"s":"macpo","x":0,"l":0,"h":0},{"p":4,"s":"macpo","x":1,"l":550,"h":800},{"p":4,"s":"macpo","x":1.5,"l":900,"h":1300},{"p":4,"s":"macpo","x":2,"l":1300,"h":1750},{"p":4,"s":"macpo","x":2.5,"l":1700,"h":2050},{"p":4,"s":"macpo","x":3,"l":2100,"h":2450},{"p":4,"s":"macpo","x":4,"l":2300,"h":2550},{"p":4,"s":"macpo","x":5,"l":2500,"h":2700},{"p":4,"s":"macpo","x":6,"l":2650,"h":2850},{"p":4,"s":"macpo","x":7,"l":2600,"h":2800},{"p":4,"s":"macpo","x":8,"l":2650,"h":2850},{"p":4,"s":"macpo","x":9,"l":2650,"h":2850},{"p":4,"s":"macpo","x":10,"l":2450,"h":2700},
{"p":5,"s":"mappo","x":0,"l":0,"h":0},{"p":5,"s":"mappo","x":1,"l":950,"h":1150},{"p":5,"s":"mappo","x":2,"l":1800,"h":2050},{"p":5,"s":"mappo","x":3,"l":2350,"h":2600},{"p":5,"s":"mappo","x":4,"l":2700,"h":3000},{"p":5,"s":"mappo","x":5,"l":3050,"h":3350},{"p":5,"s":"mappo","x":6,"l":3300,"h":3600},{"p":5,"s":"mappo","x":7,"l":3450,"h":3750},{"p":5,"s":"mappo","x":8,"l":3550,"h":3850},{"p":5,"s":"mappo","x":9,"l":3800,"h":4150},{"p":5,"s":"mappo","x":10,"l":3550,"h":3850},
{"p":5,"s":"happo","x":0,"l":0,"h":0},{"p":5,"s":"happo","x":1,"l":900,"h":1100},{"p":5,"s":"happo","x":2,"l":1750,"h":2050},{"p":5,"s":"happo","x":3,"l":2400,"h":2700},{"p":5,"s":"happo","x":4,"l":2750,"h":3050},{"p":5,"s":"happo","x":5,"l":3100,"h":3450},{"p":5,"s":"happo","x":6,"l":3300,"h":3650},{"p":5,"s":"happo","x":7,"l":3300,"h":3700},{"p":5,"s":"happo","x":8,"l":3450,"h":3850},{"p":5,"s":"happo","x":9,"l":3500,"h":3950},{"p":5,"s":"happo","x":10,"l":3600,"h":4100},
{"p":5,"s":"mafocops","x":0,"l":0,"h":0},{"p":5,"s":"mafocops","x":0.5,"l":900,"h":1300},{"p":5,"s":"mafocops","x":1,"l":1300,"h":1800},{"p":5,"s":"mafocops","x":1.5,"l":1800,"h":2100},{"p":5,"s":"mafocops","x":2,"l":2200,"h":2450},{"p":5,"s":"mafocops","x":3,"l":2300,"h":2500},{"p":5,"s":"mafocops","x":4,"l":2400,"h":2600},{"p":5,"s":"mafocops","x":4.6,"l":2100,"h":2650},{"p":5,"s":"mafocops","x":5,"l":2450,"h":2700},{"p":5,"s":"mafocops","x":6,"l":2400,"h":2650},{"p":5,"s":"mafocops","x":7,"l":2400,"h":2650},{"p":5,"s":"mafocops","x":8,"l":2550,"h":2750},{"p":5,"s":"mafocops","x":9,"l":2500,"h":2700},{"p":5,"s":"mafocops","x":10,"l":2400,"h":2700},
{"p":5,"s":"macpo","x":0,"l":0,"h":0},{"p":5,"s":"macpo","x":1,"l":500,"h":700},{"p":5,"s":"macpo","x":2,"l":900,"h":1200},{"p":5,"s":"macpo","x":3,"l":1400,"h":1800},{"p":5,"s":"macpo","x":4,"l":1950,"h":2350},{"p":5,"s":"macpo","x":5,"l":2300,"h":2600},{"p":5,"s":"macpo","x":6,"l":2450,"h":2700},{"p":5,"s":"macpo","x":7,"l":2500,"h":2700},{"p":5,"s":"macpo","x":8,"l":2500,"h":2700},{"p":5,"s":"macpo","x":9,"l":2600,"h":2800},{"p":5,"s":"macpo","x":10,"l":2500,"h":2850},
{"p":6,"s":"mappo","x":0,"l":0,"h":0},{"p":6,"s":"mappo","x":1,"l":850,"h":1050},{"p":6,"s":"mappo","x":2,"l":1850,"h":2100},{"p":6,"s":"mappo","x":3,"l":2450,"h":2750},{"p":6,"s":"mappo","x":4,"l":2750,"h":3150},{"p":6,"s":"mappo","x":5,"l":3100,"h":3500},{"p":6,"s":"mappo","x":6,"l":3300,"h":3650},{"p":6,"s":"mappo","x":7,"l":3450,"h":3800},{"p":6,"s":"mappo","x":8,"l":3450,"h":3900},{"p":6,"s":"mappo","x":9,"l":3550,"h":4000},{"p":6,"s":"mappo","x":10,"l":3400,"h":4000},
{"p":6,"s":"happo","x":0,"l":0,"h":0},{"p":6,"s":"happo","x":1,"l":850,"h":1050},{"p":6,"s":"happo","x":2,"l":1800,"h":2050},{"p":6,"s":"happo","x":3,"l":2300,"h":2600},{"p":6,"s":"happo","x":4,"l":2550,"h":2850},{"p":6,"s":"happo","x":5,"l":2650,"h":3000},{"p":6,"s":"happo","x":6,"l":3050,"h":3350},{"p":6,"s":"happo","x":7,"l":3200,"h":3500},{"p":6,"s":"happo","x":8,"l":3350,"h":3650},{"p":6,"s":"happo","x":9,"l":3400,"h":3700},{"p":6,"s":"happo","x":10,"l":3700,"h":4000},
{"p":6,"s":"mafocops","x":0,"l":0,"h":0},{"p":6,"s":"mafocops","x":0.5,"l":1200,"h":1500},{"p":6,"s":"mafocops","x":1,"l":1350,"h":1550},{"p":6,"s":"mafocops","x":2,"l":2150,"h":2450},{"p":6,"s":"mafocops","x":3,"l":2050,"h":2300},{"p":6,"s":"mafocops","x":4,"l":2300,"h":2500},{"p":6,"s":"mafocops","x":5,"l":2350,"h":2550},{"p":6,"s":"mafocops","x":6,"l":2300,"h":2500},{"p":6,"s":"mafocops","x":7,"l":2300,"h":2500},{"p":6,"s":"mafocops","x":8,"l":2300,"h":2500},{"p":6,"s":"mafocops","x":9,"l":2400,"h":2600},{"p":6,"s":"mafocops","x":10,"l":2500,"h":2700},
{"p":6,"s":"macpo","x":0,"l":0,"h":0},{"p":6,"s":"macpo","x":0.5,"l":150,"h":280},{"p":6,"s":"macpo","x":1,"l":400,"h":650},{"p":6,"s":"macpo","x":1.5,"l":550,"h":850},{"p":6,"s":"macpo","x":2,"l":750,"h":1050},{"p":6,"s":"macpo","x":2.5,"l":900,"h":1300},{"p":6,"s":"macpo","x":3,"l":1000,"h":1600},{"p":6,"s":"macpo","x":3.5,"l":1150,"h":1900},{"p":6,"s":"macpo","x":4,"l":1250,"h":2300},{"p":6,"s":"macpo","x":4.5,"l":1300,"h":2500},{"p":6,"s":"macpo","x":5,"l":1400,"h":2600},{"p":6,"s":"macpo","x":5.5,"l":1500,"h":2600},{"p":6,"s":"macpo","x":6,"l":1550,"h":2700},{"p":6,"s":"macpo","x":6.5,"l":1600,"h":2650},{"p":6,"s":"macpo","x":7,"l":1650,"h":2650},{"p":6,"s":"macpo","x":7.5,"l":1700,"h":2650},{"p":6,"s":"macpo","x":8,"l":1750,"h":2600},{"p":6,"s":"macpo","x":8.5,"l":1850,"h":2850},{"p":6,"s":"macpo","x":9,"l":2000,"h":2800},{"p":6,"s":"macpo","x":9.5,"l":2050,"h":2800},{"p":6,"s":"macpo","x":10,"l":2150,"h":2750}
]
},
"config":{
"font":"Liberation Sans",
"view":{"fill":"#EAEAF2","stroke":null},
"axis":{"domain":false,"ticks":false,"gridColor":"#ffffff","gridWidth":0.8,"labelFontSize":7,"labelColor":"#4d4d4d","labelPadding":5,"titleFontSize":9.5,"titleFontWeight":"bold","titleColor":"#262626"},
"axisY":{"titlePadding":6},
"axisX":{"titlePadding":2},
"title":{"fontSize":13,"fontWeight":"bold","color":"#262626","offset":4,"frame":"group"},
"legend":{"labelFontSize":9.5,"labelColor":"#333333","symbolType":"stroke","symbolStrokeWidth":1.5,"symbolSize":200,"symbolOpacity":0.75,"fillColor":"#EAEAF2","strokeColor":"#cccccc","cornerRadius":3,"padding":5,"rowPadding":0,"labelOffset":8,"offset":5}
},
"concat":[
{"width":245,"height":170,"title":"HalfCheetah 2x3",
"encoding":{"x":{"field":"x","type":"quantitative","scale":{"domain":[-0.5,10.5],"nice":false,"zero":false},"axis":{"values":[0,2,4,6,8,10],"format":".1f","title":"Environment steps (million)"}}},
"layer":[
{"data":{"name":"b"},"transform":[{"filter":"datum.p==1"}],"mark":{"type":"area","opacity":0.17},"encoding":{"y":{"field":"l","type":"quantitative","scale":{"domain":[-28,690],"nice":false,"zero":false},"axis":{"values":[0,100,200,300,400,500,600],"format":".1f","title":"Average Episode Cost"}},"y2":{"field":"h"},
"fill":{"field":"s","type":"nominal","scale":{"domain":["mafocops","mappo","mappolag","happo","macpo"],"range":["#ff0000","#ff8c00","#2ca02c","#9932cc","#0000ff"]},"legend":null}}},
{"data":{"name":"d"},"transform":[{"filter":"datum.p==1"}],"mark":{"type":"line","strokeWidth":1.1},"encoding":{"y":{"field":"y","type":"quantitative","scale":{"domain":[-28,690],"nice":false,"zero":false},"axis":{"values":[0,100,200,300,400,500,600],"format":".1f","title":"Average Episode Cost"}},
"color":{"field":"s","type":"nominal","scale":{"domain":["mafocops","mappo","mappolag","happo","macpo"],"range":["#ff0000","#ff8c00","#2ca02c","#9932cc","#0000ff"]},"legend":{"orient":"top-left","title":null}}}}
]},
{"width":245,"height":170,"title":"HalfCheetah 3x2",
"encoding":{"x":{"field":"x","type":"quantitative","scale":{"domain":[-0.5,10.5],"nice":false,"zero":false},"axis":{"values":[0,2,4,6,8,10],"format":".1f","title":"Environment steps (million)"}}},
"layer":[
{"data":{"name":"b"},"transform":[{"filter":"datum.p==2"}],"mark":{"type":"area","opacity":0.17},"encoding":{"y":{"field":"l","type":"quantitative","scale":{"domain":[-28,687],"nice":false,"zero":false},"axis":{"values":[0,100,200,300,400,500,600],"format":".1f","title":"Average Episode Cost"}},"y2":{"field":"h"},
"fill":{"field":"s","type":"nominal","scale":{"domain":["mafocops","mappo","mappolag","happo","macpo"],"range":["#ff0000","#ff8c00","#2ca02c","#9932cc","#0000ff"]},"legend":null}}},
{"data":{"name":"d"},"transform":[{"filter":"datum.p==2"}],"mark":{"type":"line","strokeWidth":1.1},"encoding":{"y":{"field":"y","type":"quantitative","scale":{"domain":[-28,687],"nice":false,"zero":false},"axis":{"values":[0,100,200,300,400,500,600],"format":".1f","title":"Average Episode Cost"}},
"color":{"field":"s","type":"nominal","scale":{"domain":["mafocops","mappo","mappolag","happo","macpo"],"range":["#ff0000","#ff8c00","#2ca02c","#9932cc","#0000ff"]},"legend":null}}}
]},
{"width":245,"height":170,"title":"HalfCheetah 6x1",
"encoding":{"x":{"field":"x","type":"quantitative","scale":{"domain":[-0.5,10.5],"nice":false,"zero":false},"axis":{"values":[0,2,4,6,8,10],"format":".1f","title":"Environment steps (million)"}}},
"layer":[
{"data":{"name":"b"},"transform":[{"filter":"datum.p==3"}],"mark":{"type":"area","opacity":0.17},"encoding":{"y":{"field":"l","type":"quantitative","scale":{"domain":[-31,666],"nice":false,"zero":false},"axis":{"values":[0,100,200,300,400,500,600],"format":".1f","title":"Average Episode Cost"}},"y2":{"field":"h"},
"fill":{"field":"s","type":"nominal","scale":{"domain":["mafocops","mappo","mappolag","happo","macpo"],"range":["#ff0000","#ff8c00","#2ca02c","#9932cc","#0000ff"]},"legend":null}}},
{"data":{"name":"d"},"transform":[{"filter":"datum.p==3"}],"mark":{"type":"line","strokeWidth":1.1},"encoding":{"y":{"field":"y","type":"quantitative","scale":{"domain":[-31,666],"nice":false,"zero":false},"axis":{"values":[0,100,200,300,400,500,600],"format":".1f","title":"Average Episode Cost"}},
"color":{"field":"s","type":"nominal","scale":{"domain":["mafocops","mappo","mappolag","happo","macpo"],"range":["#ff0000","#ff8c00","#2ca02c","#9932cc","#0000ff"]},"legend":null}}}
]},
{"width":245,"height":170,"title":"HalfCheetah 2x3",
"encoding":{"x":{"field":"x","type":"quantitative","scale":{"domain":[-0.5,10.5],"nice":false,"zero":false},"axis":{"values":[0,2,4,6,8,10],"format":".1f","title":"Environment steps (million)"}}},
"layer":[
{"data":{"name":"b"},"transform":[{"filter":"datum.p==4"}],"mark":{"type":"area","opacity":0.15},"encoding":{"y":{"field":"l","type":"quantitative","scale":{"domain":[-217,4585],"nice":false,"zero":false},"axis":{"values":[0,1000,2000,3000,4000],"format":".1f","title":"Average Episode Reward"}},"y2":{"field":"h"},
"fill":{"field":"s","type":"nominal","scale":{"domain":["mafocops","mappo","mappolag","happo","macpo"],"range":["#ff0000","#ff8c00","#2ca02c","#9932cc","#0000ff"]},"legend":null}}},
{"data":{"name":"d"},"transform":[{"filter":"datum.p==4"}],"mark":{"type":"line","strokeWidth":1.1},"encoding":{"y":{"field":"y","type":"quantitative","scale":{"domain":[-217,4585],"nice":false,"zero":false},"axis":{"values":[0,1000,2000,3000,4000],"format":".1f","title":"Average Episode Reward"}},
"color":{"field":"s","type":"nominal","scale":{"domain":["mafocops","mappo","mappolag","happo","macpo"],"range":["#ff0000","#ff8c00","#2ca02c","#9932cc","#0000ff"]},"legend":null}}}
]},
{"width":245,"height":170,"title":"HalfCheetah 3x2",
"encoding":{"x":{"field":"x","type":"quantitative","scale":{"domain":[-0.5,10.5],"nice":false,"zero":false},"axis":{"values":[0,2,4,6,8,10],"format":".1f","title":"Environment steps (million)"}}},
"layer":[
{"data":{"name":"b"},"transform":[{"filter":"datum.p==5"}],"mark":{"type":"area","opacity":0.15},"encoding":{"y":{"field":"l","type":"quantitative","scale":{"domain":[-230,4569],"nice":false,"zero":false},"axis":{"values":[0,1000,2000,3000,4000],"format":".1f","title":"Average Episode Reward"}},"y2":{"field":"h"},
"fill":{"field":"s","type":"nominal","scale":{"domain":["mafocops","mappo","mappolag","happo","macpo"],"range":["#ff0000","#ff8c00","#2ca02c","#9932cc","#0000ff"]},"legend":null}}},
{"data":{"name":"d"},"transform":[{"filter":"datum.p==5"}],"mark":{"type":"line","strokeWidth":1.1},"encoding":{"y":{"field":"y","type":"quantitative","scale":{"domain":[-230,4569],"nice":false,"zero":false},"axis":{"values":[0,1000,2000,3000,4000],"format":".1f","title":"Average Episode Reward"}},
"color":{"field":"s","type":"nominal","scale":{"domain":["mafocops","mappo","mappolag","happo","macpo"],"range":["#ff0000","#ff8c00","#2ca02c","#9932cc","#0000ff"]},"legend":null}}}
]},
{"width":245,"height":170,"title":"HalfCheetah 6x1",
"encoding":{"x":{"field":"x","type":"quantitative","scale":{"domain":[-0.5,10.5],"nice":false,"zero":false},"axis":{"values":[0,2,4,6,8,10],"format":".1f","title":"Environment steps (million)"}}},
"layer":[
{"data":{"name":"b"},"transform":[{"filter":"datum.p==6"}],"mark":{"type":"area","opacity":0.15},"encoding":{"y":{"field":"l","type":"quantitative","scale":{"domain":[-233,4311],"nice":false,"zero":false},"axis":{"values":[0,1000,2000,3000,4000],"format":".1f","title":"Average Episode Reward"}},"y2":{"field":"h"},
"fill":{"field":"s","type":"nominal","scale":{"domain":["mafocops","mappo","mappolag","happo","macpo"],"range":["#ff0000","#ff8c00","#2ca02c","#9932cc","#0000ff"]},"legend":null}}},
{"data":{"name":"d"},"transform":[{"filter":"datum.p==6"}],"mark":{"type":"line","strokeWidth":1.1},"encoding":{"y":{"field":"y","type":"quantitative","scale":{"domain":[-233,4311],"nice":false,"zero":false},"axis":{"values":[0,1000,2000,3000,4000],"format":".1f","title":"Average Episode Reward"}},
"color":{"field":"s","type":"nominal","scale":{"domain":["mafocops","mappo","mappolag","happo","macpo"],"range":["#ff0000","#ff8c00","#2ca02c","#9932cc","#0000ff"]},"legend":null}}}
]}
],
"columns":3,
"spacing":{"row":53,"column":54},
"bounds":"flush",
"resolve":{"legend":{"color":"independent"}}
}
